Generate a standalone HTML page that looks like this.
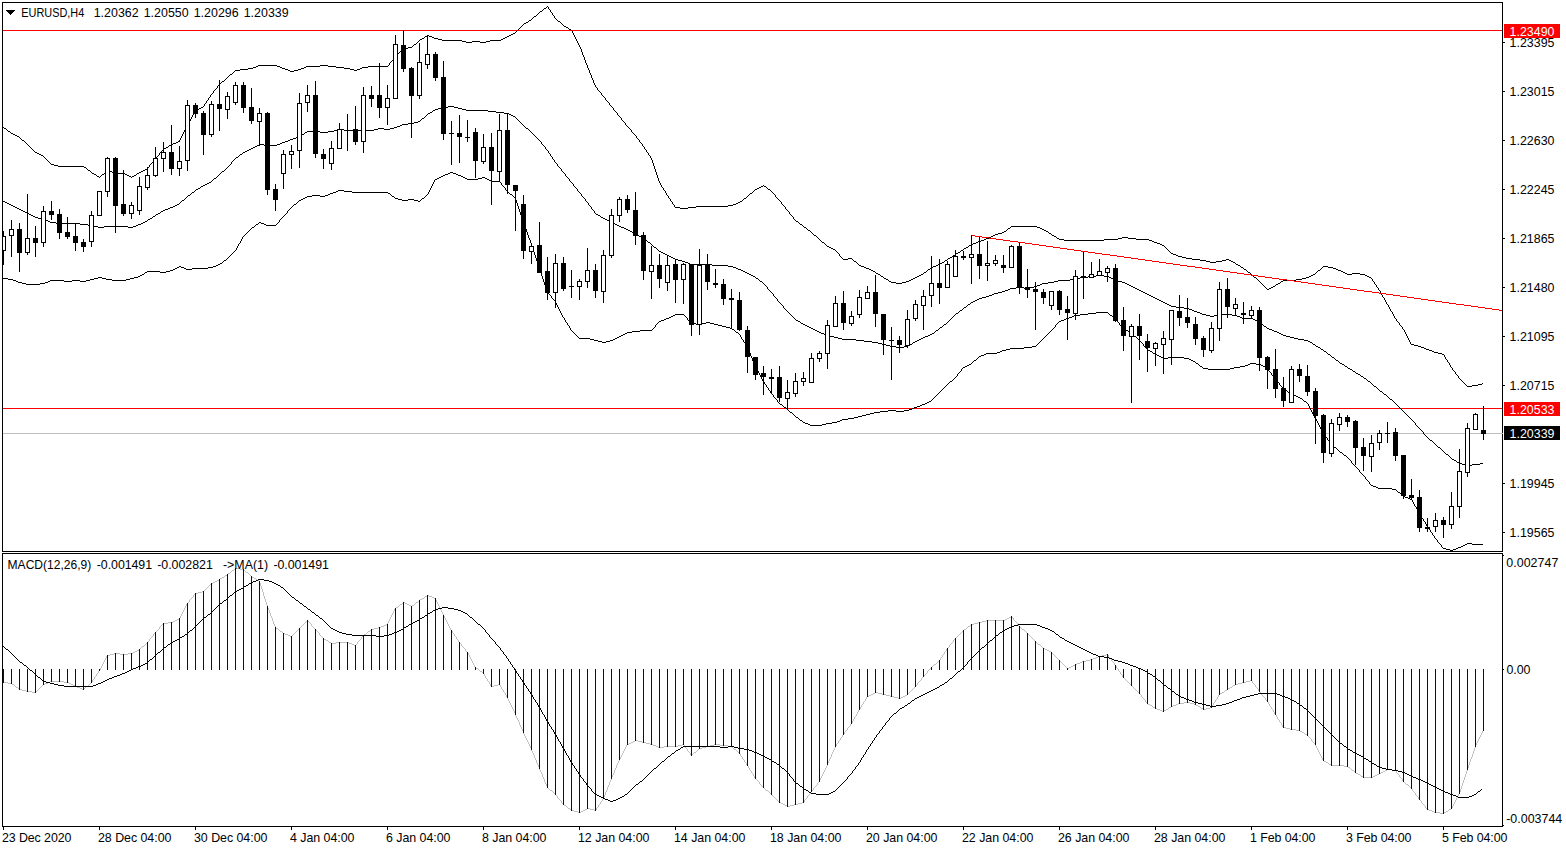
<!DOCTYPE html>
<html lang="en"><head><meta charset="utf-8"><title>EURUSD,H4</title>
<style>html,body{margin:0;padding:0;background:#fff;overflow:hidden}svg{display:block}text{white-space:pre;font-family:"Liberation Sans",sans-serif;font-size:12.4px;fill:#000}</style></head><body>
<svg width="1566" height="850" viewBox="0 0 1566 850">
<rect width="1566" height="850" fill="#fff"/>
<defs><clipPath id="cm"><rect x="3" y="3" width="1499" height="548"/></clipPath><clipPath id="ci"><rect x="3" y="554" width="1499" height="272"/></clipPath></defs>
<g clip-path="url(#cm)" shape-rendering="crispEdges">
<rect x="3" y="433" width="1499" height="1" fill="#c0c0c0"/>
<rect x="3" y="30" width="1499" height="1" fill="#ff0000"/>
<rect x="3" y="408" width="1499" height="1" fill="#ff0000"/>
<path fill="none" stroke="#000" stroke-width="1" d="M3 127.5h1M4 128.5h2M6 129.5h1M7 130.5h1M8 131.5h2M10 132.5h1M11 133.5h2M13 134.5h2M15 135.5h2M17 136.5h2M19 137.5h1M20 138.5h1M21 139.5h1M22 140.5h2M24 141.5h1M25 142.5h1M26 143.5h1M27 144.5h1M28 145.5h1M29 146.5h1M30 147.5h1M31 148.5h1M32 149.5h1M33 150.5h1M34 151.5h1M35 152.5h2M37 153.5h2M39 154.5h2M41 155.5h2M43 156.5h1M44 157.5h1M45 158.5h1M46 159.5h1M47 160.5h1M48 161.5h1M49 162.5h1M50 163.5h1M51 164.5h3M54 165.5h4M58 166.5h1M59 166.5h8M67 166.5h8M75 166.5h8M83 166.5h1M84 167.5h2M86 168.5h1M87 169.5h1M88 170.5h2M90 171.5h1M91 172.5h1M92 173.5h2M94 174.5h2M96 175.5h1M97 176.5h2M99 177.5h1M100 176.5h1M101 175.5h1M102 174.5h2M104 173.5h1M105 172.5h1M106 171.5h1M107 170.5h2M109 171.5h3M112 172.5h2M114 173.5h1M115 173.5h8M123 173.5h2M125 174.5h2M127 175.5h2M129 176.5h2M131 177.5h1M132 176.5h2M134 175.5h2M136 174.5h1M137 173.5h2M139 172.5h2M141 171.5h2M143 170.5h2M145 169.5h2M163 149.5h1M164 148.5h2M166 147.5h2M168 146.5h1M169 145.5h2M171 144.5h2M173 143.5h3M176 142.5h2M178 141.5h1M195 110.5h2M197 109.5h2M199 108.5h2M201 107.5h2M219 84.5h1M220 83.5h1M221 82.5h1M222 81.5h2M224 80.5h1M225 79.5h1M226 78.5h1M227 77.5h1M228 76.5h1M229 75.5h1M230 74.5h2M232 73.5h1M233 72.5h1M234 71.5h1M235 70.5h5M240 69.5h3M243 69.5h5M248 68.5h3M251 68.5h2M253 67.5h3M256 66.5h2M258 65.5h1M259 65.5h8M267 65.5h8M275 65.5h2M277 66.5h3M280 67.5h2M282 68.5h1M283 68.5h2M285 69.5h3M288 70.5h2M290 71.5h1M291 71.5h3M294 70.5h4M298 69.5h1M299 69.5h2M301 68.5h3M304 67.5h2M306 66.5h1M307 66.5h8M315 66.5h5M320 65.5h3M323 65.5h5M328 66.5h3M331 66.5h5M336 67.5h3M339 67.5h5M344 68.5h3M347 68.5h3M350 69.5h4M354 70.5h1M355 70.5h2M357 69.5h3M360 68.5h2M362 67.5h1M363 67.5h5M368 66.5h3M371 66.5h8M379 66.5h8M395 56.5h1M396 55.5h1M397 54.5h1M398 53.5h1M399 52.5h1M400 51.5h1M401 50.5h1M402 49.5h1M403 48.5h5M408 47.5h3M411 47.5h1M412 46.5h1M413 45.5h1M414 44.5h2M416 43.5h1M417 42.5h1M418 41.5h1M419 40.5h1M420 39.5h2M422 38.5h2M424 37.5h1M425 36.5h2M427 35.5h2M429 36.5h3M432 37.5h2M434 38.5h1M435 38.5h3M438 39.5h4M442 40.5h1M443 40.5h8M451 40.5h8M459 40.5h3M462 41.5h4M466 42.5h1M467 42.5h5M472 41.5h3M475 41.5h5M480 42.5h3M483 42.5h3M486 41.5h4M490 40.5h1M491 40.5h8M499 40.5h2M501 39.5h2M503 38.5h2M505 37.5h2M507 36.5h2M509 35.5h2M511 34.5h2M513 33.5h2M515 32.5h1M516 31.5h1M517 30.5h1M518 29.5h1M519 28.5h1M520 27.5h1M521 26.5h1M522 25.5h1M523 24.5h1M524 23.5h2M526 22.5h2M528 21.5h1M529 20.5h2M531 19.5h1M532 18.5h1M533 17.5h1M534 16.5h2M536 15.5h1M537 14.5h1M538 13.5h1M539 12.5h1M540 11.5h2M542 10.5h1M543 9.5h1M544 8.5h2M546 7.5h1M555 18.5h1M556 19.5h1M557 20.5h1M558 21.5h2M560 22.5h1M561 23.5h1M562 24.5h1M563 25.5h1M564 26.5h2M566 27.5h2M568 28.5h1M569 29.5h2M675 207.5h5M680 208.5h3M683 208.5h5M688 207.5h3M691 207.5h5M696 206.5h3M699 206.5h8M707 206.5h8M715 206.5h8M723 206.5h5M728 205.5h3M731 205.5h2M733 204.5h3M736 203.5h2M738 202.5h1M739 202.5h1M740 201.5h2M742 200.5h1M743 199.5h1M744 198.5h2M746 197.5h1M747 196.5h1M748 195.5h1M749 194.5h1M750 193.5h2M752 192.5h1M753 191.5h1M754 190.5h1M755 189.5h2M757 188.5h2M759 187.5h2M761 186.5h2M763 185.5h1M764 186.5h2M766 187.5h1M767 188.5h1M768 189.5h2M770 190.5h1M795 220.5h1M796 221.5h2M798 222.5h1M799 223.5h1M800 224.5h2M802 225.5h1M803 226.5h1M804 227.5h2M806 228.5h1M807 229.5h1M808 230.5h2M810 231.5h1M811 232.5h1M812 233.5h1M813 234.5h1M814 235.5h2M816 236.5h1M817 237.5h1M818 238.5h1M819 239.5h1M820 240.5h1M821 241.5h1M822 242.5h2M824 243.5h1M825 244.5h1M826 245.5h1M827 246.5h2M829 247.5h2M831 248.5h2M833 249.5h2M843 259.5h5M848 258.5h3M851 258.5h1M852 259.5h1M853 260.5h1M854 261.5h2M856 262.5h1M857 263.5h1M858 264.5h1M859 265.5h2M861 266.5h3M864 267.5h2M866 268.5h1M867 268.5h2M869 269.5h2M871 270.5h2M873 271.5h2M875 272.5h1M876 273.5h2M878 274.5h2M880 275.5h1M881 276.5h2M883 277.5h1M884 278.5h2M886 279.5h2M888 280.5h1M889 281.5h2M891 282.5h5M896 283.5h3M899 283.5h3M902 282.5h4M906 281.5h1M907 281.5h2M909 280.5h2M911 279.5h2M913 278.5h2M915 277.5h2M917 276.5h2M919 275.5h2M921 274.5h2M923 273.5h1M924 272.5h2M926 271.5h1M927 270.5h1M928 269.5h2M930 268.5h1M931 267.5h2M933 266.5h3M936 265.5h2M938 264.5h1M939 264.5h1M940 263.5h2M942 262.5h2M944 261.5h1M945 260.5h2M947 259.5h1M948 258.5h2M950 257.5h2M952 256.5h1M953 255.5h2M955 254.5h1M956 253.5h2M958 252.5h2M960 251.5h1M961 250.5h2M963 249.5h1M964 248.5h2M966 247.5h2M968 246.5h1M969 245.5h2M971 244.5h2M973 243.5h3M976 242.5h2M978 241.5h1M979 241.5h2M981 240.5h3M984 239.5h2M986 238.5h1M987 238.5h2M989 237.5h2M991 236.5h2M993 235.5h2M995 234.5h3M998 233.5h4M1002 232.5h1M1003 232.5h1M1004 231.5h2M1006 230.5h1M1007 229.5h1M1008 228.5h2M1010 227.5h1M1011 226.5h8M1019 226.5h8M1027 226.5h8M1035 226.5h2M1037 227.5h3M1040 228.5h2M1042 229.5h1M1043 229.5h1M1044 230.5h2M1046 231.5h2M1048 232.5h1M1049 233.5h2M1051 234.5h1M1052 235.5h2M1054 236.5h2M1056 237.5h1M1057 238.5h2M1059 239.5h5M1064 240.5h3M1067 240.5h8M1075 240.5h8M1083 240.5h8M1091 240.5h8M1099 240.5h5M1104 239.5h3M1107 239.5h8M1115 239.5h3M1118 238.5h4M1122 237.5h1M1123 237.5h5M1128 238.5h3M1131 238.5h5M1136 239.5h3M1139 239.5h8M1147 239.5h2M1149 240.5h3M1152 241.5h2M1154 242.5h1M1155 242.5h2M1157 243.5h3M1160 244.5h2M1162 245.5h1M1163 245.5h1M1164 246.5h1M1165 247.5h1M1166 248.5h1M1167 249.5h1M1168 250.5h1M1169 251.5h1M1170 252.5h1M1171 253.5h2M1173 254.5h3M1176 255.5h2M1178 256.5h1M1179 256.5h3M1182 257.5h4M1186 258.5h1M1187 258.5h5M1192 259.5h3M1195 259.5h5M1200 260.5h3M1203 260.5h3M1206 261.5h4M1210 262.5h1M1211 262.5h5M1216 261.5h3M1219 261.5h3M1222 260.5h4M1226 259.5h1M1227 259.5h2M1229 260.5h2M1231 261.5h2M1233 262.5h2M1235 263.5h1M1236 264.5h2M1238 265.5h2M1240 266.5h1M1241 267.5h2M1243 268.5h1M1244 269.5h2M1246 270.5h1M1247 271.5h1M1248 272.5h2M1250 273.5h1M1251 274.5h1M1252 275.5h1M1253 276.5h1M1254 277.5h2M1256 278.5h1M1257 279.5h1M1258 280.5h1M1259 281.5h1M1260 282.5h1M1261 283.5h1M1262 284.5h1M1263 285.5h1M1264 286.5h1M1265 287.5h1M1266 288.5h1M1267 289.5h2M1269 288.5h2M1271 287.5h2M1273 286.5h2M1275 285.5h1M1276 284.5h2M1278 283.5h2M1280 282.5h1M1281 281.5h2M1283 280.5h8M1291 280.5h5M1296 279.5h3M1299 279.5h3M1302 278.5h4M1306 277.5h1M1307 277.5h2M1309 276.5h2M1311 275.5h2M1313 274.5h2M1315 273.5h1M1316 272.5h1M1317 271.5h1M1318 270.5h2M1320 269.5h1M1321 268.5h1M1322 267.5h1M1323 266.5h5M1328 267.5h3M1331 267.5h2M1333 268.5h3M1336 269.5h2M1338 270.5h1M1339 270.5h2M1341 271.5h2M1343 272.5h2M1345 273.5h2M1347 274.5h5M1352 273.5h3M1355 273.5h5M1360 274.5h3M1363 274.5h2M1365 275.5h2M1367 276.5h2M1369 277.5h2M1411 344.5h3M1414 345.5h4M1418 346.5h1M1419 346.5h2M1421 347.5h3M1424 348.5h2M1426 349.5h1M1427 349.5h2M1429 350.5h3M1432 351.5h2M1434 352.5h1M1435 352.5h3M1438 353.5h4M1442 354.5h1M1459 378.5h1M1460 379.5h1M1461 380.5h1M1462 381.5h1M1463 382.5h1M1464 383.5h1M1465 384.5h1M1466 385.5h1M1467 386.5h5M1472 385.5h3M1475 385.5h3M1478 384.5h4M1482 383.5h1M147.5 168v1M148.5 167v1M149.5 165v2M150.5 164v1M151.5 163v1M152.5 162v1M153.5 160v2M154.5 159v1M155.5 158v1M156.5 157v1M157.5 156v1M158.5 155v1M159.5 153v2M160.5 152v1M161.5 151v1M162.5 150v1M179.5 140v2M180.5 138v2M181.5 136v2M182.5 134v2M183.5 132v2M184.5 130v2M185.5 128v2M186.5 126v2M187.5 125v1M188.5 123v2M189.5 121v2M190.5 119v2M191.5 117v2M192.5 115v2M193.5 113v2M194.5 111v2M203.5 106v1M204.5 104v2M205.5 103v1M206.5 101v2M207.5 100v1M208.5 98v2M209.5 97v1M210.5 95v2M211.5 94v1M212.5 93v1M213.5 91v2M214.5 90v1M215.5 89v1M216.5 88v1M217.5 86v2M218.5 85v1M387.5 66v1M388.5 65v1M389.5 63v2M390.5 62v1M391.5 61v1M392.5 60v1M393.5 58v2M394.5 57v1M547.5 6v1M548.5 7v2M549.5 9v1M550.5 10v2M551.5 12v1M552.5 13v2M553.5 15v1M554.5 16v2M571.5 30v1M572.5 31v2M573.5 33v2M574.5 35v2M575.5 37v2M576.5 39v2M577.5 41v2M578.5 43v2M579.5 45v2M580.5 47v2M581.5 49v3M582.5 52v3M583.5 55v2M584.5 57v3M585.5 60v3M586.5 63v2M587.5 65v1M587.5 66v2M588.5 68v2M589.5 70v3M590.5 73v2M591.5 75v3M592.5 78v2M593.5 80v3M594.5 83v2M595.5 85v1M595.5 86v1M596.5 87v1M597.5 88v2M598.5 90v1M599.5 91v1M600.5 92v1M601.5 93v2M602.5 95v1M603.5 96v1M604.5 97v1M605.5 98v2M606.5 100v1M607.5 101v1M608.5 102v1M609.5 103v2M610.5 105v1M611.5 106v1M612.5 107v1M613.5 108v2M614.5 110v1M615.5 111v1M616.5 112v1M617.5 113v2M618.5 115v1M619.5 116v1M620.5 117v1M621.5 118v2M622.5 120v1M623.5 121v1M624.5 122v1M625.5 123v2M626.5 125v1M627.5 126v1M628.5 127v1M629.5 128v1M630.5 129v1M631.5 130v2M632.5 132v1M633.5 133v1M634.5 134v1M635.5 135v1M636.5 136v2M637.5 138v1M638.5 139v1M639.5 140v2M640.5 142v1M641.5 143v1M642.5 144v2M643.5 146v1M644.5 147v2M645.5 149v1M646.5 150v2M647.5 152v1M648.5 153v2M649.5 155v1M650.5 156v2M651.5 158v2M652.5 160v3M653.5 163v3M654.5 166v3M655.5 169v3M656.5 172v3M657.5 175v3M658.5 178v3M659.5 181v1M659.5 182v1M660.5 183v2M661.5 185v2M662.5 187v1M663.5 188v2M664.5 190v1M665.5 191v2M666.5 193v2M667.5 195v1M668.5 196v2M669.5 198v1M670.5 199v2M671.5 201v1M672.5 202v2M673.5 204v1M674.5 205v2M771.5 191v1M772.5 192v1M773.5 193v1M774.5 194v1M775.5 195v2M776.5 197v1M777.5 198v1M778.5 199v1M779.5 200v1M780.5 201v1M781.5 202v2M782.5 204v1M783.5 205v1M784.5 206v1M785.5 207v2M786.5 209v1M787.5 210v1M788.5 211v1M789.5 212v2M790.5 214v1M791.5 215v1M792.5 216v1M793.5 217v2M794.5 219v1M835.5 250v1M836.5 251v1M837.5 252v1M838.5 253v1M839.5 254v2M840.5 256v1M841.5 257v1M842.5 258v1M1371.5 278v1M1372.5 279v2M1373.5 281v1M1374.5 282v2M1375.5 284v1M1376.5 285v2M1377.5 287v1M1378.5 288v2M1379.5 290v1M1380.5 291v2M1381.5 293v2M1382.5 295v2M1383.5 297v1M1384.5 298v2M1385.5 300v2M1386.5 302v2M1387.5 304v1M1388.5 305v2M1389.5 307v2M1390.5 309v2M1391.5 311v1M1392.5 312v2M1393.5 314v2M1394.5 316v2M1395.5 318v1M1396.5 319v2M1397.5 321v1M1398.5 322v1M1399.5 323v2M1400.5 325v1M1401.5 326v1M1402.5 327v2M1403.5 329v1M1404.5 330v2M1405.5 332v2M1406.5 334v2M1407.5 336v2M1408.5 338v2M1409.5 340v2M1410.5 342v2M1443.5 354v1M1444.5 355v2M1445.5 357v2M1446.5 359v1M1447.5 360v2M1448.5 362v1M1449.5 363v2M1450.5 365v2M1451.5 367v1M1452.5 368v2M1453.5 370v1M1454.5 371v1M1455.5 372v2M1456.5 374v1M1457.5 375v1M1458.5 376v2"/>
<path fill="none" stroke="#000" stroke-width="1" d="M3 201.5h2M5 202.5h2M7 203.5h2M9 204.5h2M11 205.5h2M13 206.5h2M15 207.5h2M17 208.5h2M19 209.5h2M21 210.5h2M23 211.5h2M25 212.5h2M27 213.5h2M29 214.5h2M31 215.5h2M33 216.5h2M35 217.5h3M38 218.5h4M42 219.5h1M43 219.5h2M45 220.5h3M48 221.5h2M50 222.5h1M51 222.5h5M56 223.5h3M59 223.5h8M67 223.5h8M75 223.5h5M80 224.5h3M83 224.5h5M88 225.5h3M91 225.5h3M94 226.5h4M98 227.5h1M99 227.5h5M104 226.5h3M107 226.5h8M115 226.5h8M123 226.5h5M128 227.5h3M131 227.5h2M133 226.5h3M136 225.5h2M138 224.5h1M139 224.5h2M141 223.5h2M143 222.5h2M145 221.5h2M147 220.5h1M148 219.5h2M150 218.5h2M152 217.5h1M153 216.5h2M155 215.5h1M156 214.5h2M158 213.5h2M160 212.5h1M161 211.5h2M163 210.5h2M165 209.5h3M168 208.5h2M170 207.5h1M171 207.5h2M173 206.5h2M175 205.5h2M177 204.5h2M179 203.5h1M180 202.5h1M181 201.5h1M182 200.5h2M184 199.5h1M185 198.5h1M186 197.5h1M187 196.5h1M188 195.5h2M190 194.5h1M191 193.5h1M192 192.5h2M194 191.5h1M195 190.5h1M196 189.5h2M198 188.5h2M200 187.5h1M201 186.5h2M203 185.5h2M205 184.5h2M207 183.5h2M209 182.5h2M211 181.5h1M212 180.5h1M213 179.5h1M214 178.5h2M216 177.5h1M217 176.5h1M218 175.5h1M219 174.5h1M220 173.5h1M221 172.5h1M222 171.5h2M224 170.5h1M225 169.5h1M226 168.5h1M235 158.5h1M236 157.5h2M238 156.5h1M239 155.5h1M240 154.5h2M242 153.5h1M243 152.5h2M245 151.5h2M247 150.5h2M249 149.5h2M251 148.5h2M253 147.5h2M255 146.5h2M257 145.5h2M259 144.5h5M264 145.5h3M267 145.5h8M275 145.5h2M277 144.5h3M280 143.5h2M282 142.5h1M283 142.5h2M285 141.5h3M288 140.5h2M290 139.5h1M291 139.5h2M293 138.5h3M296 137.5h2M298 136.5h1M299 136.5h1M300 135.5h2M302 134.5h2M304 133.5h1M305 132.5h2M307 131.5h8M315 131.5h5M320 132.5h3M323 132.5h5M328 131.5h3M331 131.5h3M334 130.5h4M338 129.5h1M339 129.5h5M344 130.5h3M347 130.5h8M355 130.5h8M363 130.5h8M371 130.5h3M374 129.5h4M378 128.5h1M379 128.5h5M384 129.5h3M387 129.5h3M390 128.5h4M394 127.5h1M395 127.5h2M397 126.5h3M400 125.5h2M402 124.5h1M403 124.5h5M408 123.5h3M411 123.5h3M414 122.5h4M418 121.5h1M419 121.5h1M420 120.5h1M421 119.5h1M422 118.5h2M424 117.5h1M425 116.5h1M426 115.5h1M427 114.5h1M428 113.5h2M430 112.5h2M432 111.5h1M433 110.5h2M435 109.5h3M438 108.5h4M442 107.5h1M443 107.5h5M448 106.5h3M451 106.5h3M454 107.5h4M458 108.5h1M459 108.5h3M462 109.5h4M466 110.5h1M467 110.5h8M475 110.5h8M483 110.5h5M488 111.5h3M491 111.5h5M496 112.5h3M499 112.5h5M504 113.5h3M507 113.5h2M509 114.5h2M511 115.5h2M513 116.5h2M515 117.5h1M516 118.5h1M517 119.5h1M518 120.5h1M519 121.5h1M520 122.5h1M521 123.5h1M522 124.5h1M523 125.5h1M524 126.5h1M525 127.5h1M526 128.5h2M528 129.5h1M529 130.5h1M530 131.5h1M531 132.5h1M532 133.5h1M533 134.5h1M534 135.5h1M535 136.5h1M536 137.5h1M537 138.5h1M538 139.5h1M595 213.5h1M596 214.5h2M598 215.5h2M600 216.5h1M601 217.5h2M603 218.5h2M605 219.5h2M607 220.5h2M609 221.5h2M611 222.5h2M613 223.5h2M615 224.5h2M617 225.5h2M619 226.5h2M621 227.5h3M624 228.5h2M626 229.5h1M627 229.5h1M628 230.5h2M630 231.5h2M632 232.5h1M633 233.5h2M635 234.5h2M637 235.5h2M639 236.5h2M641 237.5h2M643 238.5h1M644 239.5h2M646 240.5h1M647 241.5h1M648 242.5h2M650 243.5h1M651 244.5h1M652 245.5h1M653 246.5h1M654 247.5h2M656 248.5h1M657 249.5h1M658 250.5h1M659 251.5h2M661 252.5h2M663 253.5h2M665 254.5h2M667 255.5h2M669 256.5h2M671 257.5h2M673 258.5h2M675 259.5h3M678 260.5h4M682 261.5h1M683 261.5h2M685 262.5h3M688 263.5h2M690 264.5h1M691 264.5h8M699 264.5h8M707 264.5h5M712 265.5h3M715 265.5h8M723 265.5h5M728 266.5h3M731 266.5h2M733 267.5h3M736 268.5h2M738 269.5h1M739 269.5h2M741 270.5h2M743 271.5h2M745 272.5h2M747 273.5h2M749 274.5h2M751 275.5h2M753 276.5h2M755 277.5h1M756 278.5h2M758 279.5h1M759 280.5h1M760 281.5h2M762 282.5h1M787 311.5h1M788 312.5h1M789 313.5h1M790 314.5h1M791 315.5h1M792 316.5h1M793 317.5h1M794 318.5h1M795 319.5h1M796 320.5h2M798 321.5h2M800 322.5h1M801 323.5h2M803 324.5h2M805 325.5h2M807 326.5h2M809 327.5h2M811 328.5h2M813 329.5h2M815 330.5h2M817 331.5h2M819 332.5h2M821 333.5h3M824 334.5h2M826 335.5h1M827 335.5h3M830 336.5h4M834 337.5h1M835 337.5h3M838 338.5h4M842 339.5h1M843 339.5h8M851 339.5h5M856 340.5h3M859 340.5h5M864 341.5h3M867 341.5h5M872 342.5h3M875 342.5h3M878 343.5h4M882 344.5h1M883 344.5h3M886 345.5h4M890 346.5h1M891 346.5h5M896 347.5h3M899 347.5h5M904 346.5h3M907 346.5h1M908 345.5h2M910 344.5h2M912 343.5h1M913 342.5h2M915 341.5h2M917 340.5h2M919 339.5h2M921 338.5h2M923 337.5h2M925 336.5h3M928 335.5h2M930 334.5h1M931 334.5h1M932 333.5h2M934 332.5h1M935 331.5h1M936 330.5h2M938 329.5h1M939 328.5h1M940 327.5h2M942 326.5h1M943 325.5h1M944 324.5h2M946 323.5h1M947 322.5h1M948 321.5h1M949 320.5h1M950 319.5h1M951 318.5h1M952 317.5h1M953 316.5h1M954 315.5h1M955 314.5h1M956 313.5h2M958 312.5h1M959 311.5h1M960 310.5h2M962 309.5h1M963 308.5h1M964 307.5h2M966 306.5h1M967 305.5h1M968 304.5h2M970 303.5h1M971 302.5h2M973 301.5h2M975 300.5h2M977 299.5h2M979 298.5h3M982 297.5h4M986 296.5h1M987 296.5h2M989 295.5h3M992 294.5h2M994 293.5h1M995 293.5h3M998 292.5h4M1002 291.5h1M1003 291.5h2M1005 290.5h3M1008 289.5h2M1010 288.5h1M1011 288.5h5M1016 287.5h3M1019 287.5h5M1024 288.5h3M1027 288.5h3M1030 287.5h4M1034 286.5h1M1035 286.5h2M1037 285.5h3M1040 284.5h2M1042 283.5h1M1043 283.5h5M1048 282.5h3M1051 282.5h3M1054 281.5h4M1058 280.5h1M1059 280.5h8M1067 280.5h3M1070 279.5h4M1074 278.5h1M1075 278.5h5M1080 277.5h3M1083 277.5h5M1088 276.5h3M1091 276.5h5M1096 275.5h3M1099 275.5h5M1104 276.5h3M1107 276.5h2M1109 277.5h2M1111 278.5h2M1113 279.5h2M1115 280.5h3M1118 281.5h4M1122 282.5h1M1123 282.5h2M1125 283.5h2M1127 284.5h2M1129 285.5h2M1131 286.5h2M1133 287.5h2M1135 288.5h2M1137 289.5h2M1139 290.5h2M1141 291.5h2M1143 292.5h2M1145 293.5h2M1147 294.5h2M1149 295.5h2M1151 296.5h2M1153 297.5h2M1155 298.5h2M1157 299.5h2M1159 300.5h2M1161 301.5h2M1163 302.5h2M1165 303.5h2M1167 304.5h2M1169 305.5h2M1171 306.5h5M1176 307.5h3M1179 307.5h5M1184 308.5h3M1187 308.5h2M1189 309.5h3M1192 310.5h2M1194 311.5h1M1195 311.5h2M1197 312.5h3M1200 313.5h2M1202 314.5h1M1203 314.5h3M1206 315.5h4M1210 316.5h1M1211 316.5h3M1214 315.5h4M1218 314.5h1M1219 314.5h8M1227 314.5h5M1232 315.5h3M1235 315.5h2M1237 316.5h3M1240 317.5h2M1242 318.5h1M1243 318.5h8M1251 318.5h2M1253 319.5h2M1255 320.5h2M1257 321.5h2M1259 322.5h1M1260 323.5h2M1262 324.5h1M1263 325.5h1M1264 326.5h2M1266 327.5h1M1267 328.5h2M1269 329.5h3M1272 330.5h2M1274 331.5h1M1275 331.5h2M1277 332.5h2M1279 333.5h2M1281 334.5h2M1283 335.5h3M1286 336.5h4M1290 337.5h1M1291 337.5h3M1294 338.5h4M1298 339.5h1M1299 339.5h5M1304 340.5h3M1307 340.5h1M1308 341.5h2M1310 342.5h2M1312 343.5h1M1313 344.5h2M1315 345.5h1M1316 346.5h2M1318 347.5h2M1320 348.5h1M1321 349.5h2M1323 350.5h1M1324 351.5h2M1326 352.5h1M1327 353.5h1M1328 354.5h2M1330 355.5h1M1331 356.5h1M1332 357.5h2M1334 358.5h1M1335 359.5h1M1336 360.5h2M1338 361.5h1M1339 362.5h1M1340 363.5h2M1342 364.5h2M1344 365.5h1M1345 366.5h2M1347 367.5h1M1348 368.5h2M1350 369.5h2M1352 370.5h1M1353 371.5h2M1355 372.5h1M1356 373.5h2M1358 374.5h2M1360 375.5h1M1361 376.5h2M1363 377.5h1M1364 378.5h2M1366 379.5h1M1367 380.5h1M1368 381.5h2M1370 382.5h1M1371 383.5h1M1372 384.5h1M1373 385.5h1M1374 386.5h2M1376 387.5h1M1377 388.5h1M1378 389.5h1M1379 390.5h1M1380 391.5h2M1382 392.5h1M1383 393.5h1M1384 394.5h2M1386 395.5h1M1387 396.5h1M1388 397.5h1M1389 398.5h1M1390 399.5h2M1392 400.5h1M1393 401.5h1M1394 402.5h1M1395 403.5h1M1396 404.5h1M1397 405.5h1M1398 406.5h1M1399 407.5h1M1400 408.5h1M1401 409.5h1M1402 410.5h1M1403 411.5h1M1404 412.5h1M1405 413.5h1M1406 414.5h1M1407 415.5h1M1408 416.5h1M1409 417.5h1M1410 418.5h1M1427 437.5h1M1428 438.5h1M1429 439.5h1M1430 440.5h2M1432 441.5h1M1433 442.5h1M1434 443.5h1M1435 444.5h1M1436 445.5h1M1437 446.5h1M1438 447.5h2M1440 448.5h1M1441 449.5h1M1442 450.5h1M1443 451.5h1M1444 452.5h1M1445 453.5h1M1446 454.5h2M1448 455.5h1M1449 456.5h1M1450 457.5h1M1451 458.5h1M1452 459.5h2M1454 460.5h2M1456 461.5h1M1457 462.5h2M1459 463.5h3M1462 464.5h4M1466 465.5h1M1467 465.5h5M1472 464.5h3M1475 464.5h5M1480 463.5h3M227.5 167v1M228.5 166v1M229.5 165v1M230.5 164v1M231.5 162v2M232.5 161v1M233.5 160v1M234.5 159v1M539.5 140v1M540.5 141v1M541.5 142v2M542.5 144v1M543.5 145v1M544.5 146v1M545.5 147v2M546.5 149v1M547.5 150v1M548.5 151v2M549.5 153v1M550.5 154v2M551.5 156v1M552.5 157v2M553.5 159v1M554.5 160v2M555.5 162v1M556.5 163v1M557.5 164v2M558.5 166v1M559.5 167v1M560.5 168v1M561.5 169v2M562.5 171v1M563.5 172v1M564.5 173v1M565.5 174v2M566.5 176v1M567.5 177v1M568.5 178v1M569.5 179v2M570.5 181v1M571.5 182v1M572.5 183v1M573.5 184v2M574.5 186v1M575.5 187v1M576.5 188v1M577.5 189v2M578.5 191v1M579.5 192v1M580.5 193v1M581.5 194v2M582.5 196v1M583.5 197v1M584.5 198v1M585.5 199v2M586.5 201v1M587.5 202v1M588.5 203v2M589.5 205v1M590.5 206v1M591.5 207v2M592.5 209v1M593.5 210v1M594.5 211v2M763.5 283v1M764.5 284v1M765.5 285v1M766.5 286v1M767.5 287v2M768.5 289v1M769.5 290v1M770.5 291v1M771.5 292v1M772.5 293v1M773.5 294v2M774.5 296v1M775.5 297v1M776.5 298v1M777.5 299v2M778.5 301v1M779.5 302v1M780.5 303v1M781.5 304v1M782.5 305v1M783.5 306v2M784.5 308v1M785.5 309v1M786.5 310v1M1411.5 419v1M1412.5 420v1M1413.5 421v1M1414.5 422v1M1415.5 423v2M1416.5 425v1M1417.5 426v1M1418.5 427v1M1419.5 428v1M1420.5 429v1M1421.5 430v1M1422.5 431v1M1423.5 432v2M1424.5 434v1M1425.5 435v1M1426.5 436v1"/>
<path fill="none" stroke="#000" stroke-width="1" d="M3 278.5h5M8 279.5h3M11 279.5h2M13 280.5h3M16 281.5h2M18 282.5h1M19 282.5h3M22 283.5h4M26 284.5h1M27 284.5h8M35 284.5h5M40 283.5h3M43 283.5h2M45 282.5h3M48 281.5h2M50 280.5h1M51 280.5h8M59 280.5h5M64 281.5h3M67 281.5h5M72 280.5h3M75 280.5h5M80 281.5h3M83 281.5h3M86 280.5h4M90 279.5h1M91 279.5h3M94 278.5h4M98 277.5h1M99 277.5h3M102 278.5h4M106 279.5h1M107 279.5h5M112 280.5h3M115 280.5h8M123 280.5h3M126 279.5h4M130 278.5h1M131 278.5h3M134 277.5h4M138 276.5h1M139 276.5h1M140 275.5h2M142 274.5h2M144 273.5h1M145 272.5h2M147 271.5h8M155 271.5h5M160 272.5h3M163 272.5h3M166 271.5h4M170 270.5h1M171 270.5h2M173 269.5h2M175 268.5h2M177 267.5h2M179 266.5h2M181 267.5h3M184 268.5h2M186 269.5h1M187 269.5h5M192 268.5h3M195 268.5h8M203 268.5h5M208 267.5h3M211 267.5h2M213 266.5h3M216 265.5h2M218 264.5h1M219 264.5h1M220 263.5h2M222 262.5h1M223 261.5h1M224 260.5h2M226 259.5h1M227 258.5h1M228 257.5h1M229 256.5h1M230 255.5h1M231 254.5h1M232 253.5h1M233 252.5h1M234 251.5h1M243 236.5h1M244 235.5h1M245 234.5h1M246 233.5h1M247 232.5h1M248 231.5h1M249 230.5h1M250 229.5h1M251 228.5h1M252 227.5h2M254 226.5h1M255 225.5h1M256 224.5h2M258 223.5h1M259 222.5h2M261 223.5h3M264 224.5h2M266 225.5h1M267 225.5h8M291 207.5h1M292 206.5h1M293 205.5h1M294 204.5h2M296 203.5h1M297 202.5h1M298 201.5h1M299 200.5h2M301 199.5h2M303 198.5h2M305 197.5h2M307 196.5h5M312 195.5h3M315 195.5h5M320 196.5h3M323 196.5h2M325 195.5h3M328 194.5h2M330 193.5h1M331 193.5h2M333 192.5h3M336 191.5h2M338 190.5h1M339 190.5h5M344 191.5h3M347 191.5h5M352 192.5h3M355 192.5h8M363 192.5h8M371 192.5h8M379 192.5h8M387 192.5h1M388 193.5h2M390 194.5h1M391 195.5h1M392 196.5h2M394 197.5h1M395 198.5h3M398 199.5h4M402 200.5h1M403 200.5h5M408 199.5h3M411 199.5h3M414 200.5h4M418 201.5h1M419 201.5h1M420 200.5h1M421 199.5h1M422 198.5h2M424 197.5h1M425 196.5h1M426 195.5h1M435 179.5h2M437 178.5h2M439 177.5h2M441 176.5h2M443 175.5h2M445 174.5h3M448 173.5h2M450 172.5h1M451 172.5h2M453 173.5h3M456 174.5h2M458 175.5h1M459 175.5h2M461 176.5h2M463 177.5h2M465 178.5h2M467 179.5h8M475 179.5h3M478 178.5h4M482 177.5h1M483 177.5h2M485 178.5h2M487 179.5h2M489 180.5h2M491 181.5h8M507 191.5h1M508 192.5h1M509 193.5h1M510 194.5h2M512 195.5h1M513 196.5h1M514 197.5h1M571 330.5h1M572 331.5h1M573 332.5h1M574 333.5h1M575 334.5h1M576 335.5h1M577 336.5h1M578 337.5h1M579 338.5h8M587 338.5h3M590 339.5h4M594 340.5h1M595 340.5h3M598 341.5h4M602 342.5h1M603 342.5h3M606 341.5h4M610 340.5h1M611 340.5h2M613 339.5h2M615 338.5h2M617 337.5h2M619 336.5h2M621 335.5h2M623 334.5h2M625 333.5h2M627 332.5h5M632 331.5h3M635 331.5h5M640 330.5h3M643 330.5h8M659 321.5h2M661 320.5h3M664 319.5h2M666 318.5h1M667 318.5h2M669 317.5h2M671 316.5h2M673 315.5h2M675 314.5h8M691 323.5h5M696 324.5h3M699 324.5h3M702 323.5h4M706 322.5h1M707 322.5h3M710 323.5h4M714 324.5h1M715 324.5h3M718 325.5h4M722 326.5h1M723 326.5h3M726 327.5h4M730 328.5h1M731 328.5h1M732 329.5h2M734 330.5h1M735 331.5h1M736 332.5h2M738 333.5h1M779 403.5h1M780 404.5h2M782 405.5h1M783 406.5h1M784 407.5h2M786 408.5h1M787 409.5h1M788 410.5h1M789 411.5h1M790 412.5h2M792 413.5h1M793 414.5h1M794 415.5h1M795 416.5h1M796 417.5h2M798 418.5h1M799 419.5h1M800 420.5h2M802 421.5h1M803 422.5h2M805 423.5h3M808 424.5h2M810 425.5h1M811 425.5h8M819 425.5h3M822 424.5h4M826 423.5h1M827 423.5h5M832 422.5h3M835 422.5h2M837 421.5h3M840 420.5h2M842 419.5h1M843 419.5h5M848 418.5h3M851 418.5h3M854 417.5h4M858 416.5h1M859 416.5h3M862 415.5h4M866 414.5h1M867 414.5h3M870 413.5h4M874 412.5h1M875 412.5h5M880 411.5h3M883 411.5h5M888 410.5h3M891 410.5h5M896 411.5h3M899 411.5h5M904 410.5h3M907 410.5h2M909 409.5h3M912 408.5h2M914 407.5h1M915 407.5h2M917 406.5h3M920 405.5h2M922 404.5h1M923 404.5h2M925 403.5h2M927 402.5h2M929 401.5h2M931 400.5h1M932 399.5h1M933 398.5h1M934 397.5h1M935 396.5h1M936 395.5h1M937 394.5h1M938 393.5h1M939 392.5h1M940 391.5h1M941 390.5h1M942 389.5h1M943 388.5h1M944 387.5h1M945 386.5h1M946 385.5h1M947 384.5h1M948 383.5h1M949 382.5h1M950 381.5h2M952 380.5h1M953 379.5h1M954 378.5h1M963 367.5h2M965 366.5h2M967 365.5h2M969 364.5h2M971 363.5h1M972 362.5h1M973 361.5h1M974 360.5h2M976 359.5h1M977 358.5h1M978 357.5h1M979 356.5h2M981 355.5h3M984 354.5h2M986 353.5h1M987 353.5h8M995 353.5h2M997 352.5h3M1000 351.5h2M1002 350.5h1M1003 350.5h3M1006 349.5h4M1010 348.5h1M1011 348.5h8M1019 348.5h5M1024 347.5h3M1027 347.5h5M1032 346.5h3M1035 346.5h1M1036 345.5h1M1037 344.5h1M1038 343.5h1M1039 342.5h1M1040 341.5h1M1041 340.5h1M1042 339.5h1M1043 338.5h1M1044 337.5h1M1045 336.5h1M1046 335.5h1M1047 334.5h1M1048 333.5h1M1049 332.5h1M1050 331.5h1M1059 321.5h2M1061 320.5h3M1064 319.5h2M1066 318.5h1M1067 318.5h2M1069 317.5h3M1072 316.5h2M1074 315.5h1M1075 315.5h5M1080 314.5h3M1083 314.5h5M1088 313.5h3M1091 313.5h5M1096 312.5h3M1099 312.5h8M1107 312.5h1M1108 313.5h1M1109 314.5h1M1110 315.5h2M1112 316.5h1M1113 317.5h1M1114 318.5h1M1123 328.5h1M1124 329.5h2M1126 330.5h2M1128 331.5h1M1129 332.5h2M1131 333.5h1M1132 334.5h1M1133 335.5h1M1134 336.5h2M1136 337.5h1M1137 338.5h1M1138 339.5h1M1147 349.5h1M1148 350.5h2M1150 351.5h2M1152 352.5h1M1153 353.5h2M1155 354.5h2M1157 355.5h2M1159 356.5h2M1161 357.5h2M1163 358.5h5M1168 357.5h3M1171 357.5h8M1179 357.5h5M1184 358.5h3M1187 358.5h2M1189 359.5h2M1191 360.5h2M1193 361.5h2M1195 362.5h1M1196 363.5h2M1198 364.5h1M1199 365.5h1M1200 366.5h2M1202 367.5h1M1203 368.5h5M1208 369.5h3M1211 369.5h8M1219 369.5h8M1227 369.5h3M1230 368.5h4M1234 367.5h1M1235 367.5h5M1240 366.5h3M1243 366.5h2M1245 365.5h3M1248 364.5h2M1250 363.5h1M1251 363.5h5M1256 364.5h3M1259 364.5h2M1261 365.5h2M1263 366.5h2M1265 367.5h2M1283 388.5h1M1284 389.5h2M1286 390.5h1M1287 391.5h1M1288 392.5h2M1290 393.5h1M1291 394.5h2M1293 395.5h3M1296 396.5h2M1298 397.5h1M1299 397.5h1M1300 398.5h2M1302 399.5h1M1303 400.5h1M1304 401.5h2M1306 402.5h1M1331 444.5h1M1332 445.5h1M1333 446.5h1M1334 447.5h2M1336 448.5h1M1337 449.5h1M1338 450.5h1M1339 451.5h1M1340 452.5h2M1342 453.5h1M1343 454.5h1M1344 455.5h2M1346 456.5h1M1371 485.5h2M1373 486.5h3M1376 487.5h2M1378 488.5h1M1379 488.5h8M1387 488.5h5M1392 489.5h3M1395 489.5h1M1396 490.5h1M1397 491.5h1M1398 492.5h2M1400 493.5h1M1401 494.5h1M1402 495.5h1M1403 496.5h2M1405 497.5h3M1408 498.5h2M1410 499.5h1M1443 548.5h3M1446 549.5h4M1450 550.5h1M1451 550.5h2M1453 549.5h3M1456 548.5h2M1458 547.5h1M1459 547.5h2M1461 546.5h2M1463 545.5h2M1465 544.5h2M1467 543.5h5M1472 544.5h3M1475 544.5h8M235.5 250v1M236.5 248v2M237.5 246v2M238.5 244v2M239.5 243v1M240.5 241v2M241.5 239v2M242.5 237v2M275.5 225v1M276.5 224v1M277.5 223v1M278.5 222v1M279.5 220v2M280.5 219v1M281.5 218v1M282.5 217v1M283.5 216v1M284.5 215v1M285.5 214v1M286.5 213v1M287.5 211v2M288.5 210v1M289.5 209v1M290.5 208v1M427.5 194v1M428.5 192v2M429.5 190v2M430.5 188v2M431.5 186v2M432.5 184v2M433.5 182v2M434.5 180v2M499.5 181v1M500.5 182v1M501.5 183v2M502.5 185v1M503.5 186v1M504.5 187v1M505.5 188v2M506.5 190v1M515.5 198v2M516.5 200v3M517.5 203v3M518.5 206v3M519.5 209v3M520.5 212v3M521.5 215v3M522.5 218v3M523.5 221v1M523.5 222v2M524.5 224v3M525.5 227v2M526.5 229v3M527.5 232v3M528.5 235v3M529.5 238v2M530.5 240v3M531.5 243v1M531.5 244v2M532.5 246v3M533.5 249v3M534.5 252v3M535.5 255v3M536.5 258v3M537.5 261v3M538.5 264v3M539.5 267v1M539.5 268v2M540.5 270v3M541.5 273v3M542.5 276v3M543.5 279v3M544.5 282v3M545.5 285v3M546.5 288v3M547.5 291v1M547.5 292v1M548.5 293v1M549.5 294v1M550.5 295v1M551.5 296v2M552.5 298v1M553.5 299v1M554.5 300v1M555.5 301v2M556.5 303v2M557.5 305v2M558.5 307v2M559.5 309v2M560.5 311v2M561.5 313v2M562.5 315v2M563.5 317v1M564.5 318v2M565.5 320v2M566.5 322v1M567.5 323v2M568.5 325v1M569.5 326v2M570.5 328v2M651.5 330v1M652.5 329v1M653.5 328v1M654.5 327v1M655.5 325v2M656.5 324v1M657.5 323v1M658.5 322v1M683.5 314v1M684.5 315v1M685.5 316v1M686.5 317v1M687.5 318v2M688.5 320v1M689.5 321v1M690.5 322v1M739.5 334v1M740.5 335v2M741.5 337v2M742.5 339v1M743.5 340v2M744.5 342v1M745.5 343v2M746.5 345v2M747.5 347v2M748.5 349v2M749.5 351v2M750.5 353v3M751.5 356v2M752.5 358v3M753.5 361v2M754.5 363v2M755.5 365v1M755.5 366v1M756.5 367v2M757.5 369v2M758.5 371v2M759.5 373v2M760.5 375v2M761.5 377v2M762.5 379v2M763.5 381v1M764.5 382v2M765.5 384v1M766.5 385v2M767.5 387v1M768.5 388v2M769.5 390v1M770.5 391v2M771.5 393v1M772.5 394v1M773.5 395v2M774.5 397v1M775.5 398v1M776.5 399v1M777.5 400v2M778.5 402v1M955.5 377v1M956.5 376v1M957.5 374v2M958.5 373v1M959.5 372v1M960.5 371v1M961.5 369v2M962.5 368v1M1051.5 330v1M1052.5 329v1M1053.5 328v1M1054.5 327v1M1055.5 325v2M1056.5 324v1M1057.5 323v1M1058.5 322v1M1115.5 319v1M1116.5 320v1M1117.5 321v1M1118.5 322v1M1119.5 323v2M1120.5 325v1M1121.5 326v1M1122.5 327v1M1139.5 340v1M1140.5 341v1M1141.5 342v1M1142.5 343v1M1143.5 344v2M1144.5 346v1M1145.5 347v1M1146.5 348v1M1267.5 368v1M1268.5 369v2M1269.5 371v1M1270.5 372v1M1271.5 373v2M1272.5 375v1M1273.5 376v1M1274.5 377v2M1275.5 379v1M1276.5 380v1M1277.5 381v1M1278.5 382v1M1279.5 383v2M1280.5 385v1M1281.5 386v1M1282.5 387v1M1307.5 403v1M1308.5 404v2M1309.5 406v2M1310.5 408v2M1311.5 410v2M1312.5 412v2M1313.5 414v2M1314.5 416v2M1315.5 418v1M1316.5 419v2M1317.5 421v2M1318.5 423v2M1319.5 425v2M1320.5 427v2M1321.5 429v2M1322.5 431v2M1323.5 433v1M1324.5 434v2M1325.5 436v1M1326.5 437v1M1327.5 438v2M1328.5 440v1M1329.5 441v1M1330.5 442v2M1347.5 457v1M1348.5 458v1M1349.5 459v1M1350.5 460v1M1351.5 461v2M1352.5 463v1M1353.5 464v1M1354.5 465v1M1355.5 466v1M1356.5 467v1M1357.5 468v1M1358.5 469v1M1359.5 470v2M1360.5 472v1M1361.5 473v1M1362.5 474v1M1363.5 475v1M1364.5 476v1M1365.5 477v2M1366.5 479v1M1367.5 480v1M1368.5 481v1M1369.5 482v2M1370.5 484v1M1411.5 499v1M1412.5 500v2M1413.5 502v2M1414.5 504v2M1415.5 506v1M1416.5 507v2M1417.5 509v2M1418.5 511v2M1419.5 513v1M1420.5 514v2M1421.5 516v2M1422.5 518v1M1423.5 519v2M1424.5 521v1M1425.5 522v2M1426.5 524v2M1427.5 526v1M1428.5 527v2M1429.5 529v1M1430.5 530v2M1431.5 532v1M1432.5 533v2M1433.5 535v1M1434.5 536v2M1435.5 538v1M1436.5 539v1M1437.5 540v2M1438.5 542v1M1439.5 543v1M1440.5 544v1M1441.5 545v2M1442.5 547v1"/>
<path fill="none" stroke="#ff0000" stroke-width="1" d="M971 235.5h4M975 236.5h7M982 237.5h7M989 238.5h7M996 239.5h7M1003 240.5h7M1010 241.5h8M1018 242.5h7M1025 243.5h7M1032 244.5h7M1039 245.5h7M1046 246.5h7M1053 247.5h7M1060 248.5h7M1067 249.5h7M1074 250.5h7M1081 251.5h7M1088 252.5h7M1095 253.5h7M1102 254.5h8M1110 255.5h7M1117 256.5h7M1124 257.5h7M1131 258.5h7M1138 259.5h7M1145 260.5h7M1152 261.5h7M1159 262.5h7M1166 263.5h7M1173 264.5h7M1180 265.5h7M1187 266.5h8M1195 267.5h7M1202 268.5h7M1209 269.5h7M1216 270.5h7M1223 271.5h7M1230 272.5h7M1237 273.5h7M1244 274.5h7M1251 275.5h7M1258 276.5h7M1265 277.5h7M1272 278.5h7M1279 279.5h8M1287 280.5h7M1294 281.5h7M1301 282.5h7M1308 283.5h7M1315 284.5h7M1322 285.5h7M1329 286.5h7M1336 287.5h7M1343 288.5h7M1350 289.5h7M1357 290.5h7M1364 291.5h8M1372 292.5h7M1379 293.5h7M1386 294.5h7M1393 295.5h7M1400 296.5h7M1407 297.5h7M1414 298.5h7M1421 299.5h7M1428 300.5h7M1435 301.5h7M1442 302.5h7M1449 303.5h7M1456 304.5h8M1464 305.5h7M1471 306.5h7M1478 307.5h7M1485 308.5h7M1492 309.5h7M1499 310.5h3"/>
<path d="M3.5 231V265M11.5 220V257M19.5 223V272M27.5 194V255M35.5 226V257M43.5 206V247M51.5 201V220M59.5 209V239M67.5 217V239M75.5 223V251M83.5 239V252M91.5 211V247M99.5 191V215M107.5 157V197M115.5 157V233M123.5 170V216M131.5 202V219M139.5 177V215M147.5 167V190M155.5 147V177M163.5 142V172M171.5 125V175M179.5 146V176M187.5 100V171M195.5 103V118M203.5 111V155M211.5 101V137M219.5 80V131M227.5 92V119M235.5 82V105M243.5 82V113M251.5 88V124M259.5 108V146M267.5 112V195M275.5 184V211M283.5 150V189M291.5 145V169M299.5 93V168M307.5 85V112M315.5 81V158M323.5 149V169M331.5 141V170M339.5 123V148M347.5 114V151M355.5 106V145M363.5 87V153M371.5 86V107M379.5 63V118M387.5 85V125M395.5 35V98M403.5 30V72M411.5 67V138M419.5 43V99M427.5 35V69M435.5 52V81M443.5 61V140M451.5 121V165M459.5 115V163M467.5 120V142M475.5 128V178M483.5 134V164M491.5 133V205M499.5 114V181M507.5 114V194M515.5 185V231M523.5 195V259M531.5 246V264M539.5 222V273M547.5 257V300M555.5 254V308M563.5 257V291M571.5 270V298M579.5 279V300M587.5 248V288M595.5 264V298M603.5 250V303M611.5 209V258M619.5 197V222M627.5 195V213M635.5 192V245M643.5 232V280M651.5 246V299M659.5 254V288M667.5 256V291M675.5 260V303M683.5 263V304M691.5 264V336M699.5 249V335M707.5 254V290M715.5 269V288M723.5 279V305M731.5 289V328M739.5 292V331M747.5 326V373M755.5 357V380M763.5 366V395M771.5 369V393M779.5 366V402M787.5 380V410M795.5 373V397M803.5 372V386M811.5 353V383M819.5 351V362M827.5 320V369M835.5 296V327M843.5 291V330M851.5 311V326M859.5 290V318M867.5 286V299M875.5 275V327M883.5 314V355M891.5 327V380M899.5 336V353M907.5 310V348M915.5 300V321M923.5 290V330M931.5 256V307M939.5 259V304M947.5 261V287M955.5 250V276M963.5 251V260M971.5 235V284M979.5 237V279M987.5 241V281M995.5 255V266M1003.5 255V273M1011.5 245V267M1019.5 242V294M1027.5 269V298M1035.5 282V330M1043.5 289V304M1051.5 291V310M1059.5 290V315M1067.5 296V340M1075.5 270V320M1083.5 252V299M1091.5 262V278M1099.5 259V276M1107.5 266V282M1115.5 264V322M1123.5 307V351M1131.5 324V403M1139.5 314V360M1147.5 334V372M1155.5 342V366M1163.5 331V374M1171.5 310V365M1179.5 295V326M1187.5 298V328M1195.5 317V345M1203.5 336V357M1211.5 322V353M1219.5 282V341M1227.5 278V318M1235.5 298V315M1243.5 302V324M1251.5 306V318M1259.5 307V371M1267.5 356V389M1275.5 349V398M1283.5 377V407M1291.5 366V403M1299.5 364V382M1307.5 365V396M1315.5 388V444M1323.5 414V463M1331.5 419V457M1339.5 413V431M1347.5 415V427M1355.5 420V465M1363.5 438V471M1371.5 435V472M1379.5 430V450M1387.5 422V443M1395.5 428V461M1403.5 455V499M1411.5 479V500M1419.5 490V532M1427.5 518V532M1435.5 513V532M1443.5 517V538M1451.5 492V529M1459.5 449V518M1467.5 423V477M1475.5 413V430M1483.5 406V440" stroke="#000" stroke-width="1" fill="none"/>
<path d="M17 229h5v24h-5zM33 238h5v5h-5zM49 211h5v4h-5zM57 214h5v19h-5zM65 232h5v5h-5zM73 236h5v7h-5zM81 242h5v5h-5zM113 158h5v48h-5zM121 204h5v10h-5zM169 152h5v17h-5zM193 105h5v9h-5zM201 113h5v22h-5zM217 104h5v5h-5zM241 85h5v23h-5zM249 107h5v14h-5zM265 113h5v77h-5zM273 189h5v11h-5zM313 95h5v59h-5zM321 154h5v5h-5zM345 130h5v1h-5zM353 129h5v13h-5zM369 95h5v4h-5zM377 95h5v13h-5zM401 45h5v24h-5zM409 68h5v28h-5zM433 54h5v24h-5zM441 77h5v57h-5zM449 133h5v1h-5zM457 133h5v4h-5zM465 137h5v1h-5zM473 132h5v29h-5zM489 147h5v24h-5zM505 130h5v55h-5zM513 185h5v6h-5zM521 204h5v47h-5zM537 245h5v28h-5zM545 271h5v22h-5zM561 263h5v26h-5zM569 286h5v1h-5zM593 270h5v21h-5zM625 199h5v11h-5zM633 210h5v26h-5zM641 235h5v36h-5zM657 265h5v14h-5zM673 264h5v16h-5zM689 264h5v61h-5zM705 265h5v17h-5zM713 283h5v2h-5zM721 284h5v15h-5zM729 298h5v2h-5zM737 300h5v30h-5zM745 330h5v27h-5zM753 357h5v18h-5zM761 373h5v4h-5zM769 377h5v2h-5zM777 377h5v21h-5zM841 303h5v20h-5zM873 292h5v22h-5zM881 314h5v26h-5zM889 340h5v1h-5zM897 340h5v5h-5zM937 283h5v5h-5zM961 256h5v2h-5zM977 254h5v12h-5zM1001 265h5v3h-5zM1017 246h5v42h-5zM1025 287h5v3h-5zM1033 289h5v3h-5zM1041 292h5v6h-5zM1057 291h5v19h-5zM1065 309h5v4h-5zM1081 276h5v2h-5zM1113 268h5v53h-5zM1121 320h5v16h-5zM1137 326h5v10h-5zM1145 341h5v7h-5zM1177 311h5v7h-5zM1185 317h5v6h-5zM1193 324h5v15h-5zM1201 338h5v12h-5zM1225 289h5v18h-5zM1241 313h5v2h-5zM1257 310h5v48h-5zM1265 357h5v13h-5zM1273 369h5v20h-5zM1281 388h5v13h-5zM1297 369h5v7h-5zM1305 376h5v16h-5zM1313 391h5v25h-5zM1321 415h5v38h-5zM1345 417h5v5h-5zM1353 421h5v27h-5zM1361 447h5v9h-5zM1385 433h5v1h-5zM1393 432h5v24h-5zM1401 455h5v41h-5zM1409 495h5v3h-5zM1417 497h5v31h-5zM1425 527h5v2h-5zM1441 520h5v5h-5zM1481 430h5v4h-5z" fill="#000"/>
<path d="M1.5 236.5h4v14h-4zM9.5 229.5h4v6h-4zM25.5 238.5h4v14h-4zM41.5 211.5h4v31h-4zM89.5 215.5h4v26h-4zM97.5 191.5h4v24h-4zM105.5 158.5h4v33h-4zM129.5 205.5h4v8h-4zM137.5 186.5h4v24h-4zM145.5 175.5h4v12h-4zM153.5 158.5h4v17h-4zM161.5 152.5h4v6h-4zM177.5 161.5h4v7h-4zM185.5 105.5h4v55h-4zM209.5 104.5h4v30h-4zM225.5 96.5h4v13h-4zM233.5 85.5h4v17h-4zM257.5 113.5h4v8h-4zM281.5 154.5h4v19h-4zM289.5 151.5h4v3h-4zM297.5 103.5h4v47h-4zM305.5 95.5h4v7h-4zM329.5 148.5h4v15h-4zM337.5 129.5h4v19h-4zM361.5 95.5h4v46h-4zM385.5 98.5h4v9h-4zM393.5 44.5h4v54h-4zM417.5 62.5h4v33h-4zM425.5 54.5h4v10h-4zM481.5 147.5h4v14h-4zM497.5 130.5h4v41h-4zM529.5 246.5h4v5h-4zM553.5 263.5h4v29h-4zM577.5 281.5h4v5h-4zM585.5 270.5h4v11h-4zM601.5 255.5h4v36h-4zM609.5 215.5h4v40h-4zM617.5 199.5h4v16h-4zM649.5 265.5h4v6h-4zM665.5 265.5h4v17h-4zM681.5 264.5h4v15h-4zM697.5 265.5h4v59h-4zM785.5 392.5h4v6h-4zM793.5 381.5h4v12h-4zM801.5 378.5h4v3h-4zM809.5 358.5h4v24h-4zM817.5 353.5h4v5h-4zM825.5 325.5h4v28h-4zM833.5 303.5h4v23h-4zM849.5 316.5h4v7h-4zM857.5 297.5h4v17h-4zM865.5 292.5h4v6h-4zM905.5 319.5h4v26h-4zM913.5 304.5h4v14h-4zM921.5 296.5h4v9h-4zM929.5 283.5h4v12h-4zM945.5 264.5h4v23h-4zM953.5 256.5h4v20h-4zM969.5 254.5h4v3h-4zM985.5 263.5h4v2h-4zM993.5 260.5h4v3h-4zM1009.5 246.5h4v21h-4zM1049.5 291.5h4v14h-4zM1073.5 276.5h4v37h-4zM1089.5 274.5h4v3h-4zM1097.5 271.5h4v4h-4zM1105.5 268.5h4v4h-4zM1129.5 326.5h4v10h-4zM1153.5 343.5h4v5h-4zM1161.5 338.5h4v6h-4zM1169.5 310.5h4v29h-4zM1209.5 328.5h4v22h-4zM1217.5 289.5h4v39h-4zM1233.5 304.5h4v4h-4zM1249.5 310.5h4v5h-4zM1289.5 369.5h4v33h-4zM1329.5 423.5h4v30h-4zM1337.5 417.5h4v7h-4zM1369.5 443.5h4v13h-4zM1377.5 433.5h4v9h-4zM1433.5 520.5h4v6h-4zM1449.5 506.5h4v18h-4zM1457.5 471.5h4v35h-4zM1465.5 428.5h4v44h-4zM1473.5 414.5h4v15h-4z" fill="#fff" stroke="#000" stroke-width="1"/>
</g>
<g clip-path="url(#ci)" shape-rendering="crispEdges">
<path fill="none" stroke="#c0c0c0" stroke-width="1" d="M3 682.5h5M8 683.5h3M11 683.5h1M12 684.5h2M14 685.5h1M15 686.5h1M16 687.5h2M18 688.5h1M19 689.5h3M22 690.5h4M26 691.5h1M27 691.5h5M32 692.5h3M35 692.5h1M36 691.5h1M37 690.5h1M38 689.5h1M39 688.5h1M40 687.5h1M41 686.5h1M42 685.5h1M43 684.5h2M45 683.5h3M48 682.5h2M50 681.5h1M51 681.5h8M59 681.5h5M64 682.5h3M67 682.5h2M69 683.5h2M71 684.5h2M73 685.5h2M75 686.5h2M77 687.5h3M80 688.5h2M82 689.5h1M83 689.5h1M84 688.5h1M85 687.5h1M86 686.5h2M88 685.5h1M89 684.5h1M90 683.5h1M107 655.5h3M110 654.5h4M114 653.5h1M115 653.5h5M120 654.5h3M123 654.5h5M128 653.5h3M131 653.5h2M133 652.5h2M135 651.5h2M137 650.5h2M139 649.5h1M140 648.5h1M141 647.5h1M142 646.5h2M144 645.5h1M145 644.5h1M146 643.5h1M163 623.5h5M168 622.5h3M171 622.5h2M173 621.5h2M175 620.5h2M177 619.5h2M195 593.5h3M198 592.5h4M202 591.5h1M203 591.5h1M204 590.5h1M205 589.5h1M206 588.5h1M207 587.5h1M208 586.5h1M209 585.5h1M210 584.5h1M211 583.5h2M213 582.5h2M215 581.5h2M217 580.5h2M219 579.5h1M220 578.5h2M222 577.5h2M224 576.5h1M225 575.5h2M227 574.5h1M228 573.5h2M230 572.5h1M231 571.5h1M232 570.5h2M234 569.5h1M235 568.5h5M240 569.5h3M243 569.5h1M244 570.5h1M245 571.5h1M246 572.5h2M248 573.5h1M249 574.5h1M250 575.5h1M251 576.5h1M252 577.5h2M254 578.5h2M256 579.5h1M257 580.5h2M275 627.5h1M276 628.5h2M278 629.5h1M279 630.5h1M280 631.5h2M282 632.5h1M283 633.5h2M285 634.5h3M288 635.5h2M290 636.5h1M291 636.5h1M292 635.5h1M293 634.5h1M294 633.5h1M295 632.5h1M296 631.5h1M297 630.5h1M298 629.5h1M299 628.5h1M300 627.5h1M301 626.5h1M302 625.5h1M303 624.5h1M304 623.5h1M305 622.5h1M306 621.5h1M323 638.5h1M324 639.5h2M326 640.5h2M328 641.5h1M329 642.5h2M331 643.5h5M336 642.5h3M339 642.5h8M347 642.5h2M349 643.5h3M352 644.5h2M354 645.5h1M363 635.5h1M364 634.5h2M366 633.5h1M367 632.5h1M368 631.5h2M370 630.5h1M371 629.5h3M374 628.5h4M378 627.5h1M379 627.5h2M381 626.5h3M384 625.5h2M386 624.5h1M395 608.5h1M396 607.5h2M398 606.5h1M399 605.5h1M400 604.5h2M402 603.5h1M403 602.5h2M405 603.5h2M407 604.5h2M409 605.5h2M411 606.5h1M412 605.5h2M414 604.5h1M415 603.5h1M416 602.5h2M418 601.5h1M419 600.5h1M420 599.5h2M422 598.5h2M424 597.5h1M425 596.5h2M427 595.5h2M429 596.5h3M432 597.5h2M434 598.5h1M475 667.5h1M476 668.5h2M478 669.5h1M479 670.5h1M480 671.5h2M482 672.5h1M491 686.5h3M494 685.5h4M498 684.5h1M547 787.5h1M548 788.5h1M549 789.5h1M550 790.5h2M552 791.5h1M553 792.5h1M554 793.5h1M563 804.5h1M564 805.5h2M566 806.5h1M567 807.5h1M568 808.5h2M570 809.5h1M571 810.5h3M574 811.5h4M578 812.5h1M579 812.5h2M581 811.5h2M583 810.5h2M585 809.5h2M587 808.5h3M590 809.5h4M594 810.5h1M627 744.5h2M629 743.5h2M631 742.5h2M633 741.5h2M635 740.5h3M638 741.5h4M642 742.5h1M643 742.5h3M646 743.5h4M650 744.5h1M651 744.5h2M653 745.5h3M656 746.5h2M658 747.5h1M659 747.5h5M664 746.5h3M667 746.5h8M675 746.5h3M678 745.5h4M682 744.5h1M691 755.5h1M692 754.5h1M693 753.5h1M694 752.5h2M696 751.5h1M697 750.5h1M698 749.5h1M699 748.5h3M702 747.5h4M706 746.5h1M707 746.5h3M710 745.5h4M714 744.5h1M715 744.5h5M720 745.5h3M723 745.5h5M728 746.5h3M731 746.5h1M732 747.5h1M733 748.5h1M734 749.5h2M736 750.5h1M737 751.5h1M738 752.5h1M763 787.5h1M764 788.5h1M765 789.5h1M766 790.5h2M768 791.5h1M769 792.5h1M770 793.5h1M771 794.5h1M772 795.5h1M773 796.5h1M774 797.5h1M775 798.5h1M776 799.5h1M777 800.5h1M778 801.5h1M779 802.5h2M781 803.5h2M783 804.5h2M785 805.5h2M787 806.5h3M790 805.5h4M794 804.5h1M795 804.5h3M798 803.5h4M802 802.5h1M867 696.5h2M869 695.5h2M871 694.5h2M873 693.5h2M875 692.5h3M878 693.5h4M882 694.5h1M883 694.5h3M886 695.5h4M890 696.5h1M891 696.5h3M894 697.5h4M898 698.5h1M899 698.5h2M901 697.5h2M903 696.5h2M905 695.5h2M907 694.5h1M908 693.5h1M909 692.5h1M910 691.5h1M911 690.5h1M912 689.5h1M913 688.5h1M914 687.5h1M931 667.5h1M932 666.5h1M933 665.5h1M934 664.5h2M936 663.5h1M937 662.5h1M938 661.5h1M955 638.5h1M956 637.5h1M957 636.5h1M958 635.5h1M959 634.5h1M960 633.5h1M961 632.5h1M962 631.5h1M963 630.5h1M964 629.5h2M966 628.5h1M967 627.5h1M968 626.5h2M970 625.5h1M971 624.5h3M974 623.5h4M978 622.5h1M979 622.5h3M982 621.5h4M986 620.5h1M987 620.5h8M995 620.5h8M1003 620.5h2M1005 619.5h2M1007 618.5h2M1009 617.5h2M1019 626.5h1M1020 627.5h1M1021 628.5h1M1022 629.5h2M1024 630.5h1M1025 631.5h1M1026 632.5h1M1027 633.5h1M1028 634.5h1M1029 635.5h1M1030 636.5h1M1031 637.5h1M1032 638.5h1M1033 639.5h1M1034 640.5h1M1035 641.5h1M1036 642.5h1M1037 643.5h1M1038 644.5h2M1040 645.5h1M1041 646.5h1M1042 647.5h1M1043 648.5h2M1045 649.5h2M1047 650.5h2M1049 651.5h2M1051 652.5h1M1052 653.5h1M1053 654.5h1M1054 655.5h1M1055 656.5h1M1056 657.5h1M1057 658.5h1M1058 659.5h1M1059 660.5h1M1060 661.5h1M1061 662.5h1M1062 663.5h1M1063 664.5h1M1064 665.5h1M1065 666.5h1M1066 667.5h1M1067 668.5h2M1069 667.5h2M1071 666.5h2M1073 665.5h2M1075 664.5h2M1077 663.5h3M1080 662.5h2M1082 661.5h1M1083 661.5h3M1086 660.5h4M1090 659.5h1M1091 659.5h2M1093 658.5h3M1096 657.5h2M1098 656.5h1M1099 656.5h3M1102 655.5h4M1106 654.5h1M1123 677.5h1M1124 678.5h1M1125 679.5h1M1126 680.5h1M1127 681.5h1M1128 682.5h1M1129 683.5h1M1130 684.5h1M1131 685.5h1M1132 686.5h1M1133 687.5h1M1134 688.5h1M1135 689.5h1M1136 690.5h1M1137 691.5h1M1138 692.5h1M1147 703.5h1M1148 704.5h2M1150 705.5h2M1152 706.5h1M1153 707.5h2M1155 708.5h2M1157 709.5h3M1160 710.5h2M1162 711.5h1M1163 711.5h1M1164 710.5h2M1166 709.5h2M1168 708.5h1M1169 707.5h2M1171 706.5h2M1173 705.5h3M1176 704.5h2M1178 703.5h1M1179 703.5h5M1184 702.5h3M1187 702.5h3M1190 703.5h4M1194 704.5h1M1195 704.5h1M1196 705.5h2M1198 706.5h2M1200 707.5h1M1201 708.5h2M1203 709.5h3M1206 708.5h4M1210 707.5h1M1219 694.5h1M1220 693.5h2M1222 692.5h2M1224 691.5h1M1225 690.5h2M1227 689.5h1M1228 688.5h2M1230 687.5h2M1232 686.5h1M1233 685.5h2M1235 684.5h3M1238 683.5h4M1242 682.5h1M1243 682.5h3M1246 681.5h4M1250 680.5h1M1283 727.5h3M1286 728.5h4M1290 729.5h1M1291 729.5h5M1296 730.5h3M1299 730.5h1M1300 731.5h2M1302 732.5h2M1304 733.5h1M1305 734.5h2M1323 760.5h1M1324 761.5h2M1326 762.5h2M1328 763.5h1M1329 764.5h2M1331 765.5h8M1339 765.5h5M1344 766.5h3M1347 766.5h1M1348 767.5h2M1350 768.5h1M1351 769.5h1M1352 770.5h2M1354 771.5h1M1355 772.5h1M1356 773.5h2M1358 774.5h2M1360 775.5h1M1361 776.5h2M1363 777.5h8M1371 777.5h2M1373 776.5h2M1375 775.5h2M1377 774.5h2M1379 773.5h2M1381 772.5h2M1383 771.5h2M1385 770.5h2M1387 769.5h5M1392 770.5h3M1403 781.5h1M1404 782.5h1M1405 783.5h1M1406 784.5h2M1408 785.5h1M1409 786.5h1M1410 787.5h1M1427 809.5h2M1429 810.5h3M1432 811.5h2M1434 812.5h1M1435 812.5h5M1440 813.5h3M1443 813.5h1M1444 812.5h2M1446 811.5h2M1448 810.5h1M1449 809.5h2M91.5 682v1M92.5 680v2M93.5 679v1M94.5 677v2M95.5 676v1M96.5 674v2M97.5 673v1M98.5 671v2M99.5 670v1M100.5 668v2M101.5 666v2M102.5 664v2M103.5 662v2M104.5 660v2M105.5 658v2M106.5 656v2M147.5 642v1M148.5 641v1M149.5 639v2M150.5 638v1M151.5 637v1M152.5 636v1M153.5 634v2M154.5 633v1M155.5 632v1M156.5 631v1M157.5 630v1M158.5 629v1M159.5 627v2M160.5 626v1M161.5 625v1M162.5 624v1M179.5 618v1M180.5 616v2M181.5 614v2M182.5 612v2M183.5 610v2M184.5 608v2M185.5 606v2M186.5 604v2M187.5 603v1M188.5 602v1M189.5 600v2M190.5 599v1M191.5 598v1M192.5 597v1M193.5 595v2M194.5 594v1M259.5 581v2M260.5 583v3M261.5 586v3M262.5 589v3M263.5 592v4M264.5 596v3M265.5 599v3M266.5 602v3M267.5 605v1M267.5 606v2M268.5 608v2M269.5 610v3M270.5 613v3M271.5 616v2M272.5 618v3M273.5 621v3M274.5 624v2M275.5 626v1M307.5 620v1M308.5 621v1M309.5 622v1M310.5 623v1M311.5 624v2M312.5 626v1M313.5 627v1M314.5 628v1M315.5 629v1M316.5 630v1M317.5 631v1M318.5 632v1M319.5 633v2M320.5 635v1M321.5 636v1M322.5 637v1M355.5 645v1M356.5 644v1M357.5 642v2M358.5 641v1M359.5 640v1M360.5 639v1M361.5 637v2M362.5 636v1M387.5 623v2M388.5 621v2M389.5 619v2M390.5 617v2M391.5 615v2M392.5 613v2M393.5 611v2M394.5 609v2M435.5 598v2M436.5 600v2M437.5 602v2M438.5 604v2M439.5 606v2M440.5 608v2M441.5 610v2M442.5 612v2M443.5 614v1M443.5 615v1M444.5 616v2M445.5 618v2M446.5 620v2M447.5 622v2M448.5 624v2M449.5 626v2M450.5 628v2M451.5 630v1M452.5 631v2M453.5 633v1M454.5 634v2M455.5 636v1M456.5 637v2M457.5 639v1M458.5 640v2M459.5 642v1M460.5 643v1M461.5 644v2M462.5 646v1M463.5 647v1M464.5 648v1M465.5 649v2M466.5 651v1M467.5 652v1M468.5 653v2M469.5 655v2M470.5 657v2M471.5 659v2M472.5 661v2M473.5 663v2M474.5 665v2M483.5 673v1M484.5 674v2M485.5 676v2M486.5 678v1M487.5 679v2M488.5 681v1M489.5 682v2M490.5 684v2M499.5 684v1M500.5 685v2M501.5 687v2M502.5 689v1M503.5 690v2M504.5 692v1M505.5 693v2M506.5 695v2M507.5 697v2M508.5 699v2M509.5 701v2M510.5 703v2M511.5 705v2M512.5 707v2M513.5 709v2M514.5 711v2M515.5 713v1M515.5 714v2M516.5 716v2M517.5 718v2M518.5 720v2M519.5 722v3M520.5 725v2M521.5 727v2M522.5 729v2M523.5 731v1M523.5 732v2M524.5 734v2M525.5 736v2M526.5 738v2M527.5 740v2M528.5 742v2M529.5 744v2M530.5 746v2M531.5 748v1M531.5 749v2M532.5 751v2M533.5 753v2M534.5 755v3M535.5 758v2M536.5 760v3M537.5 763v2M538.5 765v2M539.5 767v1M539.5 768v2M540.5 770v2M541.5 772v2M542.5 774v3M543.5 777v2M544.5 779v3M545.5 782v2M546.5 784v2M547.5 786v1M555.5 794v1M556.5 795v1M557.5 796v2M558.5 798v1M559.5 799v1M560.5 800v1M561.5 801v2M562.5 803v1M595.5 810v1M596.5 808v2M597.5 807v1M598.5 805v2M599.5 804v1M600.5 802v2M601.5 801v1M602.5 799v2M603.5 797v2M604.5 795v2M605.5 792v3M606.5 790v2M607.5 787v3M608.5 785v2M609.5 782v3M610.5 780v2M611.5 779v1M611.5 777v2M612.5 775v2M613.5 773v2M614.5 770v3M615.5 768v2M616.5 765v3M617.5 763v2M618.5 761v2M619.5 760v1M619.5 759v1M620.5 757v2M621.5 755v2M622.5 753v2M623.5 751v2M624.5 749v2M625.5 747v2M626.5 745v2M683.5 744v1M684.5 745v2M685.5 747v1M686.5 748v1M687.5 749v2M688.5 751v1M689.5 752v1M690.5 753v2M739.5 753v1M740.5 754v2M741.5 756v1M742.5 757v2M743.5 759v1M744.5 760v2M745.5 762v1M746.5 763v2M747.5 765v1M748.5 766v2M749.5 768v2M750.5 770v1M751.5 771v2M752.5 773v1M753.5 774v2M754.5 776v2M755.5 778v1M756.5 779v1M757.5 780v1M758.5 781v1M759.5 782v2M760.5 784v1M761.5 785v1M762.5 786v1M803.5 802v1M804.5 800v2M805.5 799v1M806.5 798v1M807.5 796v2M808.5 795v1M809.5 794v1M810.5 792v2M811.5 791v1M812.5 790v1M813.5 788v2M814.5 787v1M815.5 786v1M816.5 785v1M817.5 783v2M818.5 782v1M819.5 780v2M820.5 778v2M821.5 776v2M822.5 774v2M823.5 772v2M824.5 770v2M825.5 768v2M826.5 766v2M827.5 765v1M827.5 763v2M828.5 761v2M829.5 759v2M830.5 757v2M831.5 754v3M832.5 752v2M833.5 750v2M834.5 748v2M835.5 747v1M835.5 746v1M836.5 744v2M837.5 743v1M838.5 741v2M839.5 740v1M840.5 738v2M841.5 737v1M842.5 735v2M843.5 734v1M844.5 732v2M845.5 731v1M846.5 730v1M847.5 728v2M848.5 727v1M849.5 726v1M850.5 724v2M851.5 723v1M852.5 721v2M853.5 719v2M854.5 717v2M855.5 716v1M856.5 714v2M857.5 712v2M858.5 710v2M859.5 709v1M860.5 707v2M861.5 705v2M862.5 704v1M863.5 702v2M864.5 701v1M865.5 699v2M866.5 697v2M915.5 686v1M916.5 685v1M917.5 683v2M918.5 682v1M919.5 681v1M920.5 680v1M921.5 678v2M922.5 677v1M923.5 676v1M924.5 675v1M925.5 674v1M926.5 673v1M927.5 671v2M928.5 670v1M929.5 669v1M930.5 668v1M939.5 660v1M940.5 658v2M941.5 657v1M942.5 655v2M943.5 654v1M944.5 652v2M945.5 651v1M946.5 649v2M947.5 648v1M948.5 647v1M949.5 645v2M950.5 644v1M951.5 643v1M952.5 642v1M953.5 640v2M954.5 639v1M1011.5 616v1M1012.5 617v1M1013.5 618v2M1014.5 620v1M1015.5 621v1M1016.5 622v1M1017.5 623v2M1018.5 625v1M1107.5 654v1M1108.5 655v2M1109.5 657v1M1110.5 658v1M1111.5 659v2M1112.5 661v1M1113.5 662v1M1114.5 663v2M1115.5 665v1M1116.5 666v2M1117.5 668v1M1118.5 669v2M1119.5 671v1M1120.5 672v2M1121.5 674v1M1122.5 675v2M1139.5 693v1M1140.5 694v1M1141.5 695v2M1142.5 697v1M1143.5 698v1M1144.5 699v1M1145.5 700v2M1146.5 702v1M1211.5 707v1M1212.5 705v2M1213.5 703v2M1214.5 702v1M1215.5 700v2M1216.5 699v1M1217.5 697v2M1218.5 695v2M1251.5 680v1M1252.5 681v2M1253.5 683v1M1254.5 684v1M1255.5 685v2M1256.5 687v1M1257.5 688v1M1258.5 689v2M1259.5 691v1M1260.5 692v1M1261.5 693v2M1262.5 695v1M1263.5 696v1M1264.5 697v1M1265.5 698v2M1266.5 700v1M1267.5 701v1M1268.5 702v2M1269.5 704v2M1270.5 706v1M1271.5 707v2M1272.5 709v1M1273.5 710v2M1274.5 712v2M1275.5 714v1M1276.5 715v2M1277.5 717v2M1278.5 719v1M1279.5 720v2M1280.5 722v1M1281.5 723v2M1282.5 725v2M1307.5 735v1M1308.5 736v1M1309.5 737v1M1310.5 738v1M1311.5 739v2M1312.5 741v1M1313.5 742v1M1314.5 743v1M1315.5 744v2M1316.5 746v2M1317.5 748v2M1318.5 750v2M1319.5 752v2M1320.5 754v2M1321.5 756v2M1322.5 758v2M1395.5 770v1M1396.5 771v2M1397.5 773v1M1398.5 774v1M1399.5 775v2M1400.5 777v1M1401.5 778v1M1402.5 779v2M1411.5 788v1M1412.5 789v2M1413.5 791v1M1414.5 792v1M1415.5 793v2M1416.5 795v1M1417.5 796v1M1418.5 797v2M1419.5 799v1M1420.5 800v1M1421.5 801v2M1422.5 803v1M1423.5 804v1M1424.5 805v1M1425.5 806v2M1426.5 808v1M1451.5 808v1M1452.5 806v2M1453.5 804v2M1454.5 802v2M1455.5 800v2M1456.5 798v2M1457.5 796v2M1458.5 794v2M1459.5 792v2M1460.5 789v3M1461.5 786v3M1462.5 783v3M1463.5 780v3M1464.5 777v3M1465.5 774v3M1466.5 771v3M1467.5 770v1M1467.5 768v2M1468.5 765v3M1469.5 762v3M1470.5 759v3M1471.5 757v2M1472.5 754v3M1473.5 751v3M1474.5 748v3M1475.5 747v1M1475.5 745v2M1476.5 743v2M1477.5 741v2M1478.5 739v2M1479.5 737v2M1480.5 735v2M1481.5 733v2M1482.5 731v2"/>
<path d="M3.5 669V683M11.5 669V684M19.5 669V690M27.5 669V692M35.5 669V693M43.5 669V685M51.5 669V682M59.5 669V682M67.5 669V683M75.5 669V687M83.5 669V690M91.5 669V683M99.5 669V671M107.5 655V670M115.5 653V670M123.5 654V670M131.5 653V670M139.5 649V670M147.5 642V670M155.5 632V670M163.5 623V670M171.5 622V670M179.5 618V670M187.5 603V670M195.5 593V670M203.5 591V670M211.5 583V670M219.5 579V670M227.5 574V670M235.5 568V670M243.5 569V670M251.5 576V670M259.5 581V670M267.5 606V670M275.5 627V670M283.5 633V670M291.5 636V670M299.5 628V670M307.5 620V670M315.5 629V670M323.5 638V670M331.5 643V670M339.5 642V670M347.5 642V670M355.5 645V670M363.5 635V670M371.5 629V670M379.5 627V670M387.5 624V670M395.5 608V670M403.5 602V670M411.5 606V670M419.5 600V670M427.5 595V670M435.5 598V670M443.5 615V670M451.5 630V670M459.5 642V670M467.5 652V670M475.5 667V670M483.5 669V674M491.5 669V687M499.5 669V685M507.5 669V698M515.5 669V715M523.5 669V733M531.5 669V750M539.5 669V769M547.5 669V788M555.5 669V795M563.5 669V805M571.5 669V811M579.5 669V813M587.5 669V809M595.5 669V811M603.5 669V799M611.5 669V779M619.5 669V760M627.5 669V745M635.5 669V741M643.5 669V743M651.5 669V745M659.5 669V748M667.5 669V747M675.5 669V747M683.5 669V745M691.5 669V756M699.5 669V749M707.5 669V747M715.5 669V745M723.5 669V746M731.5 669V747M739.5 669V754M747.5 669V766M755.5 669V779M763.5 669V788M771.5 669V795M779.5 669V803M787.5 669V807M795.5 669V805M803.5 669V803M811.5 669V792M819.5 669V782M827.5 669V765M835.5 669V747M843.5 669V735M851.5 669V724M859.5 669V710M867.5 669V697M875.5 669V693M883.5 669V695M891.5 669V697M899.5 669V699M907.5 669V695M915.5 669V687M923.5 669V677M931.5 667V670M939.5 660V670M947.5 648V670M955.5 638V670M963.5 630V670M971.5 624V670M979.5 622V670M987.5 620V670M995.5 620V670M1003.5 620V670M1011.5 616V670M1019.5 626V670M1027.5 633V670M1035.5 641V670M1043.5 648V670M1051.5 652V670M1059.5 660V670M1067.5 668V670M1075.5 664V670M1083.5 661V670M1091.5 659V670M1099.5 656V670M1107.5 654V670M1115.5 665V670M1123.5 669V678M1131.5 669V686M1139.5 669V694M1147.5 669V704M1155.5 669V709M1163.5 669V712M1171.5 669V707M1179.5 669V704M1187.5 669V703M1195.5 669V705M1203.5 669V710M1211.5 669V708M1219.5 669V695M1227.5 669V690M1235.5 669V685M1243.5 669V683M1251.5 669V681M1259.5 669V692M1267.5 669V702M1275.5 669V715M1283.5 669V728M1291.5 669V730M1299.5 669V731M1307.5 669V736M1315.5 669V745M1323.5 669V761M1331.5 669V766M1339.5 669V766M1347.5 669V767M1355.5 669V773M1363.5 669V778M1371.5 669V778M1379.5 669V774M1387.5 669V770M1395.5 669V771M1403.5 669V782M1411.5 669V789M1419.5 669V800M1427.5 669V810M1435.5 669V813M1443.5 669V814M1451.5 669V809M1459.5 669V794M1467.5 669V770M1475.5 669V747M1483.5 669V731" stroke="#00008b" stroke-width="1" fill="none"/>
<path fill="none" stroke="#000" stroke-width="1" d="M3 646.5h1M4 647.5h1M5 648.5h1M6 649.5h2M8 650.5h1M9 651.5h1M10 652.5h1M11 653.5h1M12 654.5h1M13 655.5h1M14 656.5h1M15 657.5h1M16 658.5h1M17 659.5h1M18 660.5h1M19 661.5h1M20 662.5h2M22 663.5h1M23 664.5h1M24 665.5h2M26 666.5h1M27 667.5h1M28 668.5h1M29 669.5h1M30 670.5h2M32 671.5h1M33 672.5h1M34 673.5h1M35 674.5h1M36 675.5h1M37 676.5h1M38 677.5h2M40 678.5h1M41 679.5h1M42 680.5h1M43 681.5h3M46 682.5h4M50 683.5h1M51 683.5h3M54 684.5h4M58 685.5h1M59 685.5h5M64 686.5h3M67 686.5h8M75 686.5h8M83 686.5h8M91 686.5h2M93 685.5h3M96 684.5h2M98 683.5h1M99 683.5h2M101 682.5h2M103 681.5h2M105 680.5h2M107 679.5h2M109 678.5h3M112 677.5h2M114 676.5h1M115 676.5h2M117 675.5h3M120 674.5h2M122 673.5h1M123 673.5h2M125 672.5h2M127 671.5h2M129 670.5h2M131 669.5h2M133 668.5h3M136 667.5h2M138 666.5h1M139 666.5h2M141 665.5h2M143 664.5h2M145 663.5h2M147 662.5h1M148 661.5h1M149 660.5h1M150 659.5h2M152 658.5h1M153 657.5h1M154 656.5h1M155 655.5h1M156 654.5h1M157 653.5h1M158 652.5h2M160 651.5h1M161 650.5h1M162 649.5h1M163 648.5h1M164 647.5h2M166 646.5h1M167 645.5h1M168 644.5h2M170 643.5h1M171 642.5h2M173 641.5h2M175 640.5h2M177 639.5h2M179 638.5h1M180 637.5h2M182 636.5h2M184 635.5h1M185 634.5h2M187 633.5h1M188 632.5h1M189 631.5h1M190 630.5h2M192 629.5h1M193 628.5h1M194 627.5h1M195 626.5h1M196 625.5h1M197 624.5h1M198 623.5h1M199 622.5h1M200 621.5h1M201 620.5h1M202 619.5h1M203 618.5h1M204 617.5h2M206 616.5h1M207 615.5h1M208 614.5h2M210 613.5h1M211 612.5h1M212 611.5h1M213 610.5h1M214 609.5h1M215 608.5h1M216 607.5h1M217 606.5h1M218 605.5h1M219 604.5h1M220 603.5h2M222 602.5h1M223 601.5h1M224 600.5h2M226 599.5h1M227 598.5h1M228 597.5h1M229 596.5h1M230 595.5h2M232 594.5h1M233 593.5h1M234 592.5h1M235 591.5h2M237 590.5h2M239 589.5h2M241 588.5h2M243 587.5h1M244 586.5h2M246 585.5h2M248 584.5h1M249 583.5h2M251 582.5h2M253 581.5h3M256 580.5h2M258 579.5h1M259 579.5h5M264 580.5h3M267 580.5h2M269 581.5h3M272 582.5h2M274 583.5h1M275 583.5h1M276 584.5h2M278 585.5h2M280 586.5h1M281 587.5h2M283 588.5h1M284 589.5h1M285 590.5h1M286 591.5h1M287 592.5h1M288 593.5h1M289 594.5h1M290 595.5h1M291 596.5h1M292 597.5h2M294 598.5h1M295 599.5h1M296 600.5h2M298 601.5h1M299 602.5h1M300 603.5h2M302 604.5h1M303 605.5h1M304 606.5h2M306 607.5h1M307 608.5h1M308 609.5h2M310 610.5h1M311 611.5h1M312 612.5h2M314 613.5h1M315 614.5h1M316 615.5h2M318 616.5h1M319 617.5h1M320 618.5h2M322 619.5h1M323 620.5h1M324 621.5h1M325 622.5h1M326 623.5h1M327 624.5h1M328 625.5h1M329 626.5h1M330 627.5h1M331 628.5h2M333 629.5h2M335 630.5h2M337 631.5h2M339 632.5h3M342 633.5h4M346 634.5h1M347 634.5h5M352 635.5h3M355 635.5h8M363 635.5h8M371 635.5h5M376 636.5h3M379 636.5h5M384 635.5h3M387 635.5h2M389 634.5h3M392 633.5h2M394 632.5h1M395 632.5h2M397 631.5h2M399 630.5h2M401 629.5h2M403 628.5h1M404 627.5h2M406 626.5h2M408 625.5h1M409 624.5h2M411 623.5h2M413 622.5h2M415 621.5h2M417 620.5h2M419 619.5h1M420 618.5h2M422 617.5h2M424 616.5h1M425 615.5h2M427 614.5h1M428 613.5h2M430 612.5h2M432 611.5h1M433 610.5h2M435 609.5h3M438 608.5h4M442 607.5h1M443 607.5h5M448 608.5h3M451 608.5h3M454 609.5h4M458 610.5h1M459 610.5h2M461 611.5h2M463 612.5h2M465 613.5h2M467 614.5h1M468 615.5h1M469 616.5h1M470 617.5h2M472 618.5h1M473 619.5h1M474 620.5h1M475 621.5h1M476 622.5h1M477 623.5h1M478 624.5h2M480 625.5h1M481 626.5h1M482 627.5h1M595 794.5h2M597 795.5h2M599 796.5h2M601 797.5h2M603 798.5h2M605 799.5h3M608 800.5h2M610 801.5h1M611 801.5h2M613 800.5h3M616 799.5h2M618 798.5h1M619 798.5h1M620 797.5h2M622 796.5h2M624 795.5h1M625 794.5h2M627 793.5h1M628 792.5h1M629 791.5h1M630 790.5h1M631 789.5h1M632 788.5h1M633 787.5h1M634 786.5h1M635 785.5h1M636 784.5h2M638 783.5h1M639 782.5h1M640 781.5h2M642 780.5h1M643 779.5h1M644 778.5h1M645 777.5h1M646 776.5h1M647 775.5h1M648 774.5h1M649 773.5h1M650 772.5h1M651 771.5h1M652 770.5h1M653 769.5h1M654 768.5h2M656 767.5h1M657 766.5h1M658 765.5h1M659 764.5h1M660 763.5h1M661 762.5h1M662 761.5h2M664 760.5h1M665 759.5h1M666 758.5h1M667 757.5h1M668 756.5h2M670 755.5h1M671 754.5h1M672 753.5h2M674 752.5h1M675 751.5h1M676 750.5h2M678 749.5h2M680 748.5h1M681 747.5h2M683 746.5h8M691 746.5h8M699 746.5h8M707 746.5h8M715 746.5h5M720 747.5h3M723 747.5h5M728 746.5h3M731 746.5h3M734 747.5h4M738 748.5h1M739 748.5h5M744 749.5h3M747 749.5h2M749 750.5h3M752 751.5h2M754 752.5h1M755 752.5h2M757 753.5h2M759 754.5h2M761 755.5h2M763 756.5h2M765 757.5h2M767 758.5h2M769 759.5h2M771 760.5h1M772 761.5h2M774 762.5h2M776 763.5h1M777 764.5h2M779 765.5h1M780 766.5h1M781 767.5h1M782 768.5h2M784 769.5h1M785 770.5h1M786 771.5h1M795 782.5h1M796 783.5h2M798 784.5h1M799 785.5h1M800 786.5h2M802 787.5h1M803 788.5h1M804 789.5h2M806 790.5h2M808 791.5h1M809 792.5h2M811 793.5h5M816 794.5h3M819 794.5h8M827 794.5h2M829 793.5h2M831 792.5h2M833 791.5h2M835 790.5h1M836 789.5h1M837 788.5h1M838 787.5h1M839 786.5h1M840 785.5h1M841 784.5h1M842 783.5h1M891 716.5h1M892 715.5h1M893 714.5h1M894 713.5h2M896 712.5h1M897 711.5h1M898 710.5h1M899 709.5h1M900 708.5h2M902 707.5h2M904 706.5h1M905 705.5h2M907 704.5h1M908 703.5h2M910 702.5h1M911 701.5h1M912 700.5h2M914 699.5h1M915 698.5h2M917 697.5h2M919 696.5h2M921 695.5h2M923 694.5h2M925 693.5h2M927 692.5h2M929 691.5h2M931 690.5h2M933 689.5h2M935 688.5h2M937 687.5h2M939 686.5h1M940 685.5h2M942 684.5h2M944 683.5h1M945 682.5h2M947 681.5h1M948 680.5h1M949 679.5h1M950 678.5h2M952 677.5h1M953 676.5h1M954 675.5h1M955 674.5h1M956 673.5h1M957 672.5h1M958 671.5h2M960 670.5h1M961 669.5h1M962 668.5h1M971 658.5h1M972 657.5h1M973 656.5h1M974 655.5h1M975 654.5h1M976 653.5h1M977 652.5h1M978 651.5h1M979 650.5h1M980 649.5h1M981 648.5h1M982 647.5h2M984 646.5h1M985 645.5h1M986 644.5h1M987 643.5h1M988 642.5h1M989 641.5h1M990 640.5h2M992 639.5h1M993 638.5h1M994 637.5h1M995 636.5h1M996 635.5h2M998 634.5h1M999 633.5h1M1000 632.5h2M1002 631.5h1M1003 630.5h2M1005 629.5h2M1007 628.5h2M1009 627.5h2M1011 626.5h3M1014 625.5h4M1018 624.5h1M1019 624.5h8M1027 624.5h8M1035 624.5h2M1037 625.5h3M1040 626.5h2M1042 627.5h1M1043 627.5h2M1045 628.5h3M1048 629.5h2M1050 630.5h1M1051 630.5h1M1052 631.5h2M1054 632.5h1M1055 633.5h1M1056 634.5h2M1058 635.5h1M1059 636.5h1M1060 637.5h2M1062 638.5h2M1064 639.5h1M1065 640.5h2M1067 641.5h2M1069 642.5h2M1071 643.5h2M1073 644.5h2M1075 645.5h2M1077 646.5h2M1079 647.5h2M1081 648.5h2M1083 649.5h2M1085 650.5h2M1087 651.5h2M1089 652.5h2M1091 653.5h2M1093 654.5h3M1096 655.5h2M1098 656.5h1M1099 656.5h5M1104 657.5h3M1107 657.5h2M1109 658.5h3M1112 659.5h2M1114 660.5h1M1115 660.5h3M1118 661.5h4M1122 662.5h1M1123 662.5h2M1125 663.5h3M1128 664.5h2M1130 665.5h1M1131 665.5h2M1133 666.5h3M1136 667.5h2M1138 668.5h1M1139 668.5h2M1141 669.5h2M1143 670.5h2M1145 671.5h2M1147 672.5h1M1148 673.5h2M1150 674.5h2M1152 675.5h1M1153 676.5h2M1155 677.5h1M1156 678.5h1M1157 679.5h1M1158 680.5h2M1160 681.5h1M1161 682.5h1M1162 683.5h1M1163 684.5h1M1164 685.5h2M1166 686.5h1M1167 687.5h1M1168 688.5h2M1170 689.5h1M1171 690.5h1M1172 691.5h2M1174 692.5h1M1175 693.5h1M1176 694.5h2M1178 695.5h1M1179 696.5h2M1181 697.5h3M1184 698.5h2M1186 699.5h1M1187 699.5h2M1189 700.5h3M1192 701.5h2M1194 702.5h1M1195 702.5h3M1198 703.5h4M1202 704.5h1M1203 704.5h3M1206 705.5h4M1210 706.5h1M1211 706.5h5M1216 705.5h3M1219 705.5h3M1222 704.5h4M1226 703.5h1M1227 703.5h2M1229 702.5h3M1232 701.5h2M1234 700.5h1M1235 700.5h2M1237 699.5h3M1240 698.5h2M1242 697.5h1M1243 697.5h3M1246 696.5h4M1250 695.5h1M1251 695.5h3M1254 694.5h4M1258 693.5h1M1259 693.5h8M1267 693.5h8M1275 693.5h2M1277 694.5h3M1280 695.5h2M1282 696.5h1M1283 696.5h2M1285 697.5h3M1288 698.5h2M1290 699.5h1M1291 699.5h1M1292 700.5h2M1294 701.5h2M1296 702.5h1M1297 703.5h2M1299 704.5h1M1300 705.5h2M1302 706.5h1M1303 707.5h1M1304 708.5h2M1306 709.5h1M1307 710.5h1M1308 711.5h1M1309 712.5h1M1310 713.5h1M1311 714.5h1M1312 715.5h1M1313 716.5h1M1314 717.5h1M1315 718.5h1M1316 719.5h1M1317 720.5h1M1318 721.5h1M1319 722.5h1M1320 723.5h1M1321 724.5h1M1322 725.5h1M1323 726.5h1M1324 727.5h1M1325 728.5h1M1326 729.5h1M1327 730.5h1M1328 731.5h1M1329 732.5h1M1330 733.5h1M1331 734.5h1M1332 735.5h1M1333 736.5h1M1334 737.5h1M1335 738.5h1M1336 739.5h1M1337 740.5h1M1338 741.5h1M1339 742.5h1M1340 743.5h2M1342 744.5h1M1343 745.5h1M1344 746.5h2M1346 747.5h1M1347 748.5h1M1348 749.5h2M1350 750.5h2M1352 751.5h1M1353 752.5h2M1355 753.5h2M1357 754.5h2M1359 755.5h2M1361 756.5h2M1363 757.5h1M1364 758.5h2M1366 759.5h2M1368 760.5h1M1369 761.5h2M1371 762.5h1M1372 763.5h2M1374 764.5h2M1376 765.5h1M1377 766.5h2M1379 767.5h3M1382 768.5h4M1386 769.5h1M1387 769.5h5M1392 770.5h3M1395 770.5h3M1398 771.5h4M1402 772.5h1M1403 772.5h2M1405 773.5h2M1407 774.5h2M1409 775.5h2M1411 776.5h2M1413 777.5h3M1416 778.5h2M1418 779.5h1M1419 779.5h2M1421 780.5h2M1423 781.5h2M1425 782.5h2M1427 783.5h2M1429 784.5h2M1431 785.5h2M1433 786.5h2M1435 787.5h2M1437 788.5h2M1439 789.5h2M1441 790.5h2M1443 791.5h2M1445 792.5h3M1448 793.5h2M1450 794.5h1M1451 794.5h2M1453 795.5h3M1456 796.5h2M1458 797.5h1M1459 797.5h8M1467 797.5h2M1469 796.5h3M1472 795.5h2M1474 794.5h1M1475 794.5h1M1476 793.5h1M1477 792.5h1M1478 791.5h2M1480 790.5h1M1481 789.5h1M483.5 628v1M484.5 629v1M485.5 630v2M486.5 632v1M487.5 633v1M488.5 634v1M489.5 635v2M490.5 637v1M491.5 638v1M492.5 639v1M493.5 640v1M494.5 641v1M495.5 642v2M496.5 644v1M497.5 645v1M498.5 646v1M499.5 647v1M500.5 648v2M501.5 650v1M502.5 651v1M503.5 652v2M504.5 654v1M505.5 655v1M506.5 656v2M507.5 658v1M508.5 659v2M509.5 661v1M510.5 662v2M511.5 664v1M512.5 665v2M513.5 667v1M514.5 668v2M515.5 670v1M516.5 671v2M517.5 673v1M518.5 674v2M519.5 676v1M520.5 677v2M521.5 679v1M522.5 680v2M523.5 682v1M524.5 683v2M525.5 685v1M526.5 686v2M527.5 688v1M528.5 689v2M529.5 691v1M530.5 692v2M531.5 694v1M532.5 695v2M533.5 697v2M534.5 699v1M535.5 700v2M536.5 702v1M537.5 703v2M538.5 705v2M539.5 707v1M540.5 708v2M541.5 710v2M542.5 712v2M543.5 714v1M544.5 715v2M545.5 717v2M546.5 719v2M547.5 721v1M548.5 722v2M549.5 724v2M550.5 726v1M551.5 727v2M552.5 729v1M553.5 730v2M554.5 732v2M555.5 734v1M556.5 735v2M557.5 737v2M558.5 739v2M559.5 741v1M560.5 742v2M561.5 744v2M562.5 746v2M563.5 748v1M564.5 749v2M565.5 751v2M566.5 753v2M567.5 755v1M568.5 756v2M569.5 758v2M570.5 760v2M571.5 762v1M572.5 763v2M573.5 765v1M574.5 766v2M575.5 768v1M576.5 769v2M577.5 771v1M578.5 772v2M579.5 774v1M580.5 775v2M581.5 777v1M582.5 778v1M583.5 779v2M584.5 781v1M585.5 782v1M586.5 783v2M587.5 785v1M588.5 786v1M589.5 787v1M590.5 788v1M591.5 789v2M592.5 791v1M593.5 792v1M594.5 793v1M787.5 772v1M788.5 773v1M789.5 774v2M790.5 776v1M791.5 777v1M792.5 778v1M793.5 779v2M794.5 781v1M843.5 782v1M844.5 781v1M845.5 780v1M846.5 779v1M847.5 777v2M848.5 776v1M849.5 775v1M850.5 774v1M851.5 773v1M852.5 771v2M853.5 770v1M854.5 769v1M855.5 767v2M856.5 766v1M857.5 765v1M858.5 763v2M859.5 762v1M860.5 760v2M861.5 758v2M862.5 757v1M863.5 755v2M864.5 754v1M865.5 752v2M866.5 750v2M867.5 749v1M868.5 747v2M869.5 746v1M870.5 744v2M871.5 743v1M872.5 741v2M873.5 740v1M874.5 738v2M875.5 737v1M876.5 735v2M877.5 734v1M878.5 733v1M879.5 731v2M880.5 730v1M881.5 729v1M882.5 727v2M883.5 726v1M884.5 725v1M885.5 723v2M886.5 722v1M887.5 721v1M888.5 720v1M889.5 718v2M890.5 717v1M963.5 667v1M964.5 666v1M965.5 665v1M966.5 664v1M967.5 662v2M968.5 661v1M969.5 660v1M970.5 659v1"/>
</g>
<g shape-rendering="crispEdges" fill="#000">
<rect x="2" y="2" width="1501" height="1"/>
<rect x="2" y="2" width="1" height="825"/>
<rect x="1502" y="2" width="1" height="825"/>
<rect x="2" y="551" width="1501" height="1"/>
<rect x="2" y="553" width="1501" height="1"/>
<rect x="2" y="826" width="1501" height="1"/>
<rect x="0" y="552" width="1566" height="1" fill="#fff"/>
<rect x="1502" y="433" width="1" height="1" fill="#c0c0c0"/>
<rect x="1503" y="42" width="2" height="1"/>
<rect x="1503" y="91" width="2" height="1"/>
<rect x="1503" y="140" width="2" height="1"/>
<rect x="1503" y="189" width="2" height="1"/>
<rect x="1503" y="238" width="2" height="1"/>
<rect x="1503" y="287" width="2" height="1"/>
<rect x="1503" y="336" width="2" height="1"/>
<rect x="1503" y="385" width="2" height="1"/>
<rect x="1503" y="483" width="2" height="1"/>
<rect x="1503" y="532" width="2" height="1"/>
<rect x="1503" y="669" width="1" height="1"/>
<rect x="1503" y="555" width="1" height="1"/>
<rect x="1503" y="825" width="1" height="1"/>
<rect x="3" y="827" width="1" height="3"/>
<rect x="99" y="827" width="1" height="3"/>
<rect x="195" y="827" width="1" height="3"/>
<rect x="291" y="827" width="1" height="3"/>
<rect x="387" y="827" width="1" height="3"/>
<rect x="483" y="827" width="1" height="3"/>
<rect x="579" y="827" width="1" height="3"/>
<rect x="675" y="827" width="1" height="3"/>
<rect x="771" y="827" width="1" height="3"/>
<rect x="867" y="827" width="1" height="3"/>
<rect x="963" y="827" width="1" height="3"/>
<rect x="1059" y="827" width="1" height="3"/>
<rect x="1155" y="827" width="1" height="3"/>
<rect x="1251" y="827" width="1" height="3"/>
<rect x="1347" y="827" width="1" height="3"/>
<rect x="1443" y="827" width="1" height="3"/>
<path d="M6 10h9v1h-1v1h-1v1h-1v1h-1v1h-1v-1h-1v-1h-1v-1h-1v-1h-1z"/>
<rect x="1504" y="24" width="56" height="14" fill="#ff0000"/>
<rect x="1504" y="402" width="56" height="14" fill="#ff0000"/>
<rect x="1504" y="426" width="56" height="14" fill="#000"/>
</g>
<g>
<text x="21.3" y="17" textLength="63" lengthAdjust="spacingAndGlyphs">EURUSD,H4</text>
<text x="93.7" y="17" textLength="45" lengthAdjust="spacing">1.20362</text>
<text x="143.7" y="17" textLength="45" lengthAdjust="spacing">1.20550</text>
<text x="193.7" y="17" textLength="45" lengthAdjust="spacing">1.20296</text>
<text x="243.7" y="17" textLength="45" lengthAdjust="spacing">1.20339</text>
<text x="7.6" y="569" textLength="83.6" lengthAdjust="spacingAndGlyphs">MACD(12,26,9)</text>
<text x="96.8" y="569" textLength="55.3" lengthAdjust="spacing">-0.001491</text>
<text x="157.2" y="569" textLength="55.6" lengthAdjust="spacing">-0.002821</text>
<text x="223" y="569" textLength="45" lengthAdjust="spacingAndGlyphs">-&gt;MA(1)</text>
<text x="273.4" y="569" textLength="55.5" lengthAdjust="spacing">-0.001491</text>
<text x="1509.5" y="47" textLength="45" lengthAdjust="spacing">1.23395</text>
<text x="1509.5" y="96" textLength="45" lengthAdjust="spacing">1.23015</text>
<text x="1509.5" y="145" textLength="45" lengthAdjust="spacing">1.22630</text>
<text x="1509.5" y="194" textLength="45" lengthAdjust="spacing">1.22245</text>
<text x="1509.5" y="243" textLength="45" lengthAdjust="spacing">1.21865</text>
<text x="1509.5" y="292" textLength="45" lengthAdjust="spacing">1.21480</text>
<text x="1509.5" y="341" textLength="45" lengthAdjust="spacing">1.21095</text>
<text x="1509.5" y="390" textLength="45" lengthAdjust="spacing">1.20715</text>
<text x="1509.5" y="488" textLength="45" lengthAdjust="spacing">1.19945</text>
<text x="1509.5" y="537" textLength="45" lengthAdjust="spacing">1.19565</text>
<text x="1509.5" y="36" textLength="45" lengthAdjust="spacing" style="fill:#fff">1.23490</text>
<text x="1509.5" y="414" textLength="45" lengthAdjust="spacing" style="fill:#fff">1.20533</text>
<text x="1509.5" y="438" textLength="45" lengthAdjust="spacing" style="fill:#fff">1.20339</text>
<text x="1506.3" y="567" textLength="52" lengthAdjust="spacing">0.002747</text>
<text x="1506.5" y="674" textLength="24" lengthAdjust="spacing">0.00</text>
<text x="1506.2" y="823" textLength="56" lengthAdjust="spacing">-0.003744</text>
<text x="2" y="842" textLength="69.4" lengthAdjust="spacing">23 Dec 2020</text>
<text x="98" y="842" textLength="73.4" lengthAdjust="spacing">28 Dec 04:00</text>
<text x="194" y="842" textLength="73.4" lengthAdjust="spacing">30 Dec 04:00</text>
<text x="290" y="842" textLength="64.4" lengthAdjust="spacing">4 Jan 04:00</text>
<text x="386" y="842" textLength="64.4" lengthAdjust="spacing">6 Jan 04:00</text>
<text x="482" y="842" textLength="64.4" lengthAdjust="spacing">8 Jan 04:00</text>
<text x="578" y="842" textLength="71.4" lengthAdjust="spacing">12 Jan 04:00</text>
<text x="674" y="842" textLength="71.4" lengthAdjust="spacing">14 Jan 04:00</text>
<text x="770" y="842" textLength="71.4" lengthAdjust="spacing">18 Jan 04:00</text>
<text x="866" y="842" textLength="71.4" lengthAdjust="spacing">20 Jan 04:00</text>
<text x="962" y="842" textLength="71.4" lengthAdjust="spacing">22 Jan 04:00</text>
<text x="1058" y="842" textLength="71.4" lengthAdjust="spacing">26 Jan 04:00</text>
<text x="1154" y="842" textLength="71.4" lengthAdjust="spacing">28 Jan 04:00</text>
<text x="1250" y="842" textLength="65.4" lengthAdjust="spacing">1 Feb 04:00</text>
<text x="1346" y="842" textLength="65.4" lengthAdjust="spacing">3 Feb 04:00</text>
<text x="1442" y="842" textLength="65.4" lengthAdjust="spacing">5 Feb 04:00</text>
</g>
</svg></body></html>
